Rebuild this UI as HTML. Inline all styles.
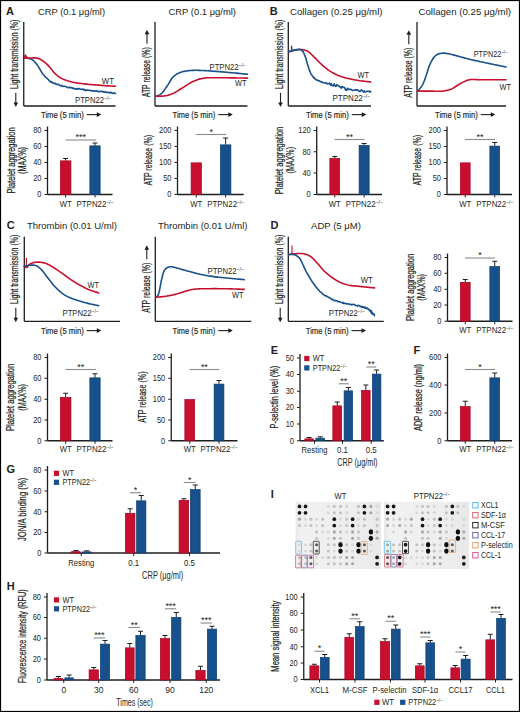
<!DOCTYPE html><html><head><meta charset="utf-8"><style>html,body{margin:0;padding:0;background:#fff}svg{display:block}text{font-family:"Liberation Sans",sans-serif;fill:#231f20}</style></head><body>
<svg width="520" height="712" viewBox="0 0 520 712">
<rect x="0" y="0" width="520" height="712" fill="#fff"/>
<rect x="0.5" y="0.5" width="519" height="711" fill="none" stroke="#000" stroke-width="1.2"/>
<text x="6" y="15" font-size="11" font-weight="bold" >A</text>
<text x="269.8" y="15" font-size="11" font-weight="bold" >B</text>
<text x="6.8" y="228.8" font-size="11" font-weight="bold" >C</text>
<text x="270.5" y="228.8" font-size="11" font-weight="bold" >D</text>
<text x="270.7" y="353.5" font-size="11" font-weight="bold" >E</text>
<text x="413.6" y="353.5" font-size="11" font-weight="bold" >F</text>
<text x="6.6" y="473.2" font-size="11" font-weight="bold" >G</text>
<text x="270.8" y="498" font-size="11" font-weight="bold" >I</text>
<text x="6.8" y="589.5" font-size="11" font-weight="bold" >H</text>
<text x="38" y="15" font-size="9.8" textLength="67" lengthAdjust="spacingAndGlyphs" >CRP (0.1 μg/ml)</text>
<text x="168.5" y="15" font-size="9.8" textLength="67.5" lengthAdjust="spacingAndGlyphs" >CRP (0.1 μg/ml)</text>
<text x="290" y="15" font-size="9.8" textLength="92.5" lengthAdjust="spacingAndGlyphs" >Collagen (0.25 μg/ml)</text>
<text x="418.5" y="15" font-size="9.8" textLength="92.5" lengthAdjust="spacingAndGlyphs" >Collagen (0.25 μg/ml)</text>
<text x="27" y="228.7" font-size="9.8" textLength="90" lengthAdjust="spacingAndGlyphs" >Thrombin (0.01 U/ml)</text>
<text x="158" y="228.7" font-size="9.8" textLength="89.5" lengthAdjust="spacingAndGlyphs" >Thrombin (0.01 U/ml)</text>
<text x="311" y="228.7" font-size="9.8" textLength="50" lengthAdjust="spacingAndGlyphs" >ADP (5 μM)</text>
<line x1="23.75" y1="22" x2="23.75" y2="106" stroke="#1e1e1e" stroke-width="1.3"/>
<line x1="23.75" y1="106" x2="115.5" y2="106" stroke="#1e1e1e" stroke-width="1.3"/>
<text x="18.3" y="89" font-size="10.2" textLength="69.4" lengthAdjust="spacingAndGlyphs" transform="rotate(-90 18.3 89)" stroke="#222" stroke-width="0.22">Light transmission (%)</text>
<line x1="15.8" y1="92.8" x2="15.8" y2="104" stroke="#1e1e1e" stroke-width="1.1"/>
<path d="M15.8 107 L13.5 102.5 L18.1 102.5 Z" fill="#1e1e1e"/>
<text x="41" y="117.7" font-size="9.6" textLength="42.7" lengthAdjust="spacingAndGlyphs" stroke="#222" stroke-width="0.18">Time (5 min)</text>
<line x1="86.8" y1="114.6" x2="98.3" y2="114.6" stroke="#1e1e1e" stroke-width="1.1"/>
<path d="M101.3 114.6 L96.8 112.3 L96.8 116.89999999999999 Z" fill="#1e1e1e"/>
<path d="M24.60 58.02 L24.94 58.15 L25.36 58.13 L25.87 58.22 L26.43 58.25 L27.04 58.11 L27.69 58.14 L28.35 58.45 L29.03 58.37 L29.69 58.49 L30.33 58.88 L30.94 58.93 L31.50 59.30 L32.02 59.50 L32.53 59.90 L33.03 60.14 L33.52 60.70 L34.00 61.22 L34.47 61.60 L34.95 62.18 L35.41 62.69 L35.88 63.07 L36.35 63.86 L36.82 64.41 L37.30 64.94 L37.78 65.52 L38.25 66.49 L38.73 67.13 L39.20 68.01 L39.68 68.88 L40.15 69.66 L40.62 70.56 L41.10 71.23 L41.57 72.15 L42.05 72.81 L42.52 73.67 L43.00 74.31 L43.48 74.69 L43.96 75.28 L44.44 75.86 L44.93 76.61 L45.41 76.91 L45.89 77.60 L46.38 77.71 L46.86 78.38 L47.35 78.67 L47.83 79.05 L48.32 79.71 L48.80 80.09 L49.27 80.81 L49.70 80.90 L50.12 81.49 L50.52 81.70 L50.93 82.12 L51.34 82.03 L51.78 81.73 L52.24 82.74 L52.75 83.11 L53.30 83.30 L53.92 83.20 L54.60 83.64 L55.35 83.37 L56.16 84.36 L57.02 84.38 L57.92 84.37 L58.87 84.43 L59.84 85.61 L60.85 86.06 L61.88 85.37 L62.92 86.44 L63.98 86.29 L65.04 86.27 L66.10 86.67 L67.15 87.43 L68.21 87.76 L69.26 87.06 L70.33 87.88 L71.41 87.44 L72.52 88.37 L73.65 88.12 L74.83 88.90 L75.43 89.09 L76.04 88.66 L76.67 89.29 L77.30 88.62 L77.96 88.46 L78.62 89.12 L79.31 88.59 L80.00 88.87 L80.73 89.20 L81.47 89.51 L82.25 89.11 L83.03 89.09 L83.85 90.09 L84.68 89.58 L85.53 90.39 L86.38 90.42 L87.26 89.95 L88.13 90.14 L89.01 90.30 L89.90 90.54 L90.79 90.58 L91.68 90.64 L92.56 90.81 L93.44 91.26 L94.31 90.87 L95.17 90.88 L96.01 91.30 L96.86 90.86 L97.66 91.02 L98.47 91.85 L99.24 91.44 L100.00 91.55 L100.75 91.05 L101.50 91.58 L102.26 91.85 L103.02 91.32 L103.79 92.07 L104.55 92.17 L105.31 91.63 L106.07 92.34 L106.82 92.25 L107.56 92.57 L108.28 92.30 L109.00 92.77 L109.68 92.89 L110.37 92.18 L111.01 92.29 L111.65 93.05 L112.82 93.50 L113.87 92.84 L114.77 93.17 L115.50 93.40" fill="none" stroke="#17508A" stroke-width="1.6" stroke-linejoin="round" stroke-linecap="round"/>
<path d="M24.60 58.10 L24.91 58.09 L25.30 58.09 L25.75 58.08 L26.26 58.07 L26.82 58.06 L27.41 58.04 L28.02 58.03 L28.64 58.02 L29.26 58.01 L29.87 58.01 L30.45 58.00 L31.00 58.00 L31.53 57.99 L32.06 57.97 L32.60 57.95 L33.13 57.91 L33.66 57.89 L34.19 57.86 L34.72 57.85 L35.25 57.85 L35.77 57.87 L36.29 57.92 L36.80 57.99 L37.30 58.10 L37.80 58.24 L38.28 58.40 L38.76 58.58 L39.24 58.78 L39.71 59.00 L40.18 59.24 L40.65 59.49 L41.11 59.77 L41.58 60.05 L42.05 60.36 L42.52 60.67 L43.00 61.00 L43.48 61.34 L43.96 61.70 L44.44 62.08 L44.93 62.47 L45.41 62.87 L45.89 63.29 L46.38 63.73 L46.86 64.18 L47.35 64.64 L47.83 65.11 L48.32 65.60 L48.80 66.10 L49.28 66.62 L49.77 67.18 L50.25 67.77 L50.73 68.38 L51.22 69.00 L51.70 69.63 L52.18 70.26 L52.67 70.87 L53.15 71.47 L53.63 72.05 L54.12 72.59 L54.60 73.10 L55.08 73.57 L55.54 74.02 L56.00 74.45 L56.45 74.86 L56.91 75.25 L57.36 75.62 L57.83 75.99 L58.30 76.34 L58.80 76.69 L59.31 77.03 L59.84 77.37 L60.40 77.70 L60.98 78.03 L61.56 78.35 L62.16 78.66 L62.77 78.96 L63.40 79.26 L64.04 79.54 L64.70 79.82 L65.39 80.09 L66.10 80.36 L66.83 80.61 L67.60 80.86 L68.40 81.10 L69.21 81.33 L70.03 81.55 L70.85 81.76 L71.69 81.96 L72.55 82.16 L73.45 82.34 L74.39 82.53 L75.38 82.70 L76.43 82.88 L77.54 83.05 L78.73 83.23 L80.00 83.40 L81.39 83.58 L82.90 83.75 L84.51 83.92 L86.21 84.10 L87.97 84.27 L89.76 84.43 L91.56 84.59 L93.36 84.75 L95.12 84.90 L96.83 85.04 L98.46 85.17 L100.00 85.30 L101.50 85.42 L103.02 85.53 L104.55 85.64 L106.07 85.74 L107.56 85.83 L109.00 85.92 L110.37 86.00 L111.65 86.07 L112.82 86.14 L113.87 86.20 L114.77 86.25 L115.50 86.30" fill="none" stroke="#C8102E" stroke-width="1.6" stroke-linejoin="round" stroke-linecap="round"/>
<path d="M24.4 58.6 L25.2 55 L27.6 57.6" stroke="#C8102E" stroke-width="1.3" fill="none" stroke-linejoin="round"/>
<text x="101.8" y="83.8" font-size="8.5" textLength="12.2" lengthAdjust="spacingAndGlyphs" >WT</text>
<text x="75" y="103" font-size="8.5" textLength="36" lengthAdjust="spacingAndGlyphs">PTPN22<tspan font-size="5.27" dy="-2.55">−/−</tspan></text>
<line x1="155" y1="22" x2="155" y2="106" stroke="#1e1e1e" stroke-width="1.3"/>
<line x1="155" y1="106" x2="247.5" y2="106" stroke="#1e1e1e" stroke-width="1.3"/>
<text x="150.2" y="97.2" font-size="10.2" textLength="50.0" lengthAdjust="spacingAndGlyphs" transform="rotate(-90 150.2 97.2)" stroke="#222" stroke-width="0.22">ATP release (%)</text>
<line x1="147.0" y1="43.7" x2="147.0" y2="32.7" stroke="#1e1e1e" stroke-width="1.1"/>
<path d="M147.0 29.700000000000003 L144.7 34.2 L149.3 34.2 Z" fill="#1e1e1e"/>
<text x="172.5" y="117.7" font-size="9.6" textLength="42.7" lengthAdjust="spacingAndGlyphs" stroke="#222" stroke-width="0.18">Time (5 min)</text>
<line x1="218.3" y1="114.6" x2="229.8" y2="114.6" stroke="#1e1e1e" stroke-width="1.1"/>
<path d="M232.8 114.6 L228.3 112.3 L228.3 116.89999999999999 Z" fill="#1e1e1e"/>
<path d="M155.80 96.30 L156.08 96.18 L156.42 96.05 L156.82 95.91 L157.27 95.76 L157.77 95.58 L158.29 95.38 L158.83 95.16 L159.38 94.90 L159.93 94.61 L160.48 94.28 L161.00 93.91 L161.50 93.50 L161.98 93.03 L162.46 92.51 L162.95 91.94 L163.43 91.33 L163.91 90.69 L164.40 90.02 L164.89 89.33 L165.37 88.62 L165.85 87.91 L166.34 87.20 L166.82 86.49 L167.30 85.80 L167.77 85.10 L168.23 84.36 L168.68 83.60 L169.13 82.83 L169.58 82.05 L170.03 81.27 L170.48 80.50 L170.95 79.75 L171.43 79.02 L171.93 78.34 L172.45 77.69 L173.00 77.10 L173.56 76.55 L174.14 76.04 L174.72 75.56 L175.31 75.10 L175.91 74.68 L176.54 74.27 L177.18 73.90 L177.85 73.54 L178.54 73.20 L179.26 72.89 L180.01 72.59 L180.80 72.30 L181.62 72.03 L182.46 71.79 L183.32 71.57 L184.21 71.37 L185.13 71.19 L186.07 71.02 L187.04 70.88 L188.04 70.76 L189.06 70.65 L190.11 70.55 L191.19 70.47 L192.30 70.40 L193.43 70.35 L194.60 70.32 L195.79 70.31 L197.00 70.32 L198.25 70.35 L199.52 70.39 L200.82 70.44 L202.14 70.50 L203.49 70.57 L204.87 70.64 L206.27 70.72 L207.70 70.80 L209.16 70.89 L210.66 70.98 L212.20 71.09 L213.77 71.20 L215.36 71.33 L216.97 71.46 L218.61 71.59 L220.26 71.73 L221.91 71.87 L223.57 72.01 L225.24 72.16 L226.90 72.30 L228.63 72.45 L230.49 72.62 L232.43 72.79 L234.43 72.97 L236.43 73.16 L238.40 73.34 L240.31 73.52 L242.11 73.69 L243.77 73.85 L245.24 73.99 L246.50 74.11 L247.50 74.20" fill="none" stroke="#17508A" stroke-width="1.6" stroke-linejoin="round" stroke-linecap="round"/>
<path d="M155.80 96.30 L156.27 96.28 L156.87 96.27 L157.57 96.25 L158.36 96.24 L159.22 96.22 L160.13 96.19 L161.06 96.16 L161.99 96.12 L162.92 96.06 L163.80 95.99 L164.64 95.91 L165.40 95.80 L166.10 95.68 L166.76 95.56 L167.39 95.43 L168.00 95.30 L168.60 95.15 L169.19 94.98 L169.79 94.80 L170.39 94.59 L171.00 94.36 L171.63 94.11 L172.30 93.82 L173.00 93.50 L173.74 93.14 L174.50 92.74 L175.28 92.30 L176.08 91.83 L176.90 91.33 L177.72 90.82 L178.56 90.29 L179.40 89.76 L180.23 89.23 L181.06 88.71 L181.89 88.19 L182.70 87.70 L183.50 87.21 L184.31 86.71 L185.11 86.19 L185.91 85.68 L186.71 85.16 L187.51 84.65 L188.31 84.15 L189.10 83.66 L189.90 83.18 L190.70 82.73 L191.50 82.30 L192.30 81.90 L193.09 81.52 L193.88 81.16 L194.65 80.82 L195.43 80.49 L196.20 80.18 L196.98 79.89 L197.76 79.61 L198.55 79.35 L199.36 79.11 L200.18 78.89 L201.03 78.68 L201.90 78.50 L202.73 78.34 L203.46 78.20 L204.13 78.09 L204.79 78.00 L205.46 77.92 L206.17 77.86 L206.98 77.82 L207.90 77.78 L208.98 77.75 L210.25 77.73 L211.74 77.72 L213.50 77.70 L215.66 77.69 L218.26 77.70 L221.22 77.73 L224.43 77.76 L227.80 77.80 L231.22 77.85 L234.61 77.90 L237.86 77.95 L240.87 78.00 L243.54 78.04 L245.79 78.08 L247.50 78.10" fill="none" stroke="#C8102E" stroke-width="1.6" stroke-linejoin="round" stroke-linecap="round"/>
<text x="209.5" y="69.5" font-size="8.5" textLength="36" lengthAdjust="spacingAndGlyphs">PTPN22<tspan font-size="5.27" dy="-2.55">−/−</tspan></text>
<text x="235" y="86" font-size="8.5" textLength="11.5" lengthAdjust="spacingAndGlyphs" >WT</text>
<line x1="288.3" y1="22" x2="288.3" y2="106" stroke="#1e1e1e" stroke-width="1.3"/>
<line x1="288.3" y1="106" x2="371" y2="106" stroke="#1e1e1e" stroke-width="1.3"/>
<text x="283" y="89" font-size="10.2" textLength="69.3" lengthAdjust="spacingAndGlyphs" transform="rotate(-90 283 89)" stroke="#222" stroke-width="0.22">Light transmission (%)</text>
<line x1="280.5" y1="92.8" x2="280.5" y2="104" stroke="#1e1e1e" stroke-width="1.1"/>
<path d="M280.5 107 L278.2 102.5 L282.8 102.5 Z" fill="#1e1e1e"/>
<text x="306" y="117.7" font-size="9.6" textLength="42.7" lengthAdjust="spacingAndGlyphs" stroke="#222" stroke-width="0.18">Time (5 min)</text>
<line x1="351.8" y1="114.6" x2="363.3" y2="114.6" stroke="#1e1e1e" stroke-width="1.1"/>
<path d="M366.3 114.6 L361.8 112.3 L361.8 116.89999999999999 Z" fill="#1e1e1e"/>
<path d="M288.80 51.80 L289.03 51.73 L289.31 51.64 L289.63 51.54 L290.00 51.42 L290.39 51.29 L290.82 51.16 L291.27 51.02 L291.74 50.88 L292.22 50.75 L292.71 50.62 L293.21 50.50 L293.70 50.40 L294.20 50.30 L294.73 50.19 L295.28 50.08 L295.85 49.97 L296.43 49.86 L297.02 49.76 L297.62 49.67 L298.23 49.59 L298.83 49.53 L299.43 49.49 L300.02 49.48 L300.60 49.50 L301.18 49.54 L301.75 49.58 L302.33 49.64 L302.90 49.71 L303.48 49.80 L304.05 49.91 L304.62 50.05 L305.20 50.21 L305.78 50.40 L306.35 50.63 L306.93 50.90 L307.50 51.20 L308.07 51.55 L308.65 51.95 L309.23 52.40 L309.80 52.88 L310.38 53.39 L310.95 53.93 L311.52 54.48 L312.10 55.04 L312.67 55.62 L313.25 56.19 L313.82 56.75 L314.40 57.30 L314.97 57.85 L315.53 58.40 L316.08 58.97 L316.63 59.54 L317.18 60.12 L317.74 60.70 L318.30 61.28 L318.87 61.87 L319.45 62.46 L320.05 63.04 L320.66 63.62 L321.30 64.20 L321.96 64.78 L322.63 65.37 L323.31 65.96 L324.00 66.56 L324.71 67.16 L325.43 67.76 L326.16 68.35 L326.91 68.93 L327.66 69.49 L328.43 70.05 L329.21 70.58 L330.00 71.10 L330.80 71.60 L331.60 72.08 L332.40 72.56 L333.21 73.02 L334.04 73.47 L334.88 73.91 L335.74 74.34 L336.62 74.76 L337.52 75.16 L338.45 75.55 L339.41 75.93 L340.40 76.30 L341.42 76.66 L342.47 77.00 L343.55 77.33 L344.65 77.64 L345.78 77.94 L346.92 78.24 L348.09 78.52 L349.28 78.79 L350.49 79.06 L351.71 79.31 L352.95 79.56 L354.20 79.80 L355.53 80.04 L356.97 80.27 L358.50 80.49 L360.08 80.71 L361.68 80.92 L363.26 81.12 L364.80 81.31 L366.25 81.48 L367.59 81.64 L368.79 81.78 L369.80 81.90 L370.60 82.00" fill="none" stroke="#C8102E" stroke-width="1.6" stroke-linejoin="round" stroke-linecap="round"/>
<path d="M288.80 51.67 L289.12 51.61 L289.53 51.45 L290.00 51.34 L290.53 51.33 L291.11 50.95 L291.72 50.81 L292.36 50.90 L293.00 50.20 L293.64 50.41 L294.26 50.38 L294.85 49.96 L295.40 49.81 L295.93 50.13 L296.46 49.65 L297.00 49.52 L297.54 49.61 L298.07 49.73 L298.59 49.26 L299.11 49.39 L299.61 49.40 L300.09 49.80 L300.55 49.61 L300.99 50.05 L301.40 49.77 L301.78 50.15 L302.14 50.68 L302.47 51.21 L302.79 51.31 L303.08 51.59 L303.36 52.00 L303.63 52.79 L303.89 53.09 L304.15 54.07 L304.40 54.67 L304.65 54.79 L304.90 55.45 L305.15 56.42 L305.37 56.95 L305.59 57.73 L305.80 58.10 L306.00 58.67 L306.20 59.51 L306.40 60.61 L306.60 61.00 L306.81 61.81 L307.02 62.62 L307.25 63.39 L307.50 64.14 L307.76 65.27 L308.02 65.54 L308.29 66.27 L308.57 67.77 L308.85 68.58 L309.14 69.50 L309.44 69.95 L309.74 71.13 L310.05 71.91 L310.36 72.16 L310.68 73.23 L311.00 73.94 L311.32 74.40 L311.63 74.85 L311.94 75.19 L312.25 75.70 L312.56 76.07 L312.89 76.37 L313.23 77.13 L313.59 77.30 L313.97 78.04 L314.38 77.86 L314.82 78.82 L315.30 79.04 L315.80 79.55 L316.31 79.86 L316.84 80.18 L317.39 80.25 L317.95 80.14 L318.55 80.93 L319.18 80.81 L319.85 81.16 L320.56 81.69 L321.32 81.86 L322.13 82.06 L323.00 82.71 L323.96 82.77 L325.02 82.86 L326.16 83.09 L326.76 83.66 L327.37 83.53 L327.99 83.89 L328.62 83.45 L329.25 83.19 L329.89 84.21 L330.53 85.08 L331.16 83.55 L331.79 85.30 L332.42 85.78 L333.03 85.62 L333.65 85.81 L334.23 83.83 L334.81 85.58 L335.90 86.47 L336.90 84.63 L337.80 85.48 L338.61 85.76 L339.36 86.72 L340.06 86.74 L340.72 87.15 L341.36 88.23 L342.00 86.49 L342.64 86.89 L343.31 87.34 L344.01 87.58 L344.77 87.66 L345.60 90.23 L346.49 90.12 L347.41 88.30 L348.37 89.55 L349.35 89.23 L350.36 89.37 L351.39 89.61 L352.43 90.51 L353.48 90.47 L354.54 90.00 L355.60 89.68 L356.65 90.15 L357.70 89.72 L358.79 90.95 L359.95 91.47 L360.56 90.64 L361.17 89.91 L361.79 90.21 L362.42 90.76 L363.05 91.41 L363.67 91.91 L364.29 90.91 L364.91 92.04 L366.10 91.65 L367.23 91.22 L368.26 91.13 L369.19 91.50 L369.97 92.09 L370.60 91.39" fill="none" stroke="#17508A" stroke-width="1.6" stroke-linejoin="round" stroke-linecap="round"/>
<line x1="291.6" y1="45.8" x2="291.6" y2="52" stroke="#17508A" stroke-width="1.5"/>
<text x="357.5" y="78" font-size="8.5" textLength="11.5" lengthAdjust="spacingAndGlyphs" >WT</text>
<text x="332.5" y="100.5" font-size="8.5" textLength="37.5" lengthAdjust="spacingAndGlyphs">PTPN22<tspan font-size="5.27" dy="-2.55">−/−</tspan></text>
<line x1="417" y1="22" x2="417" y2="106" stroke="#1e1e1e" stroke-width="1.3"/>
<line x1="417" y1="106" x2="506" y2="106" stroke="#1e1e1e" stroke-width="1.3"/>
<text x="412" y="97.7" font-size="10.2" textLength="50.0" lengthAdjust="spacingAndGlyphs" transform="rotate(-90 412 97.7)" stroke="#222" stroke-width="0.22">ATP release (%)</text>
<line x1="408.8" y1="44.2" x2="408.8" y2="33.2" stroke="#1e1e1e" stroke-width="1.1"/>
<path d="M408.8 30.200000000000003 L406.5 34.7 L411.1 34.7 Z" fill="#1e1e1e"/>
<text x="435" y="117.7" font-size="9.6" textLength="42.7" lengthAdjust="spacingAndGlyphs" stroke="#222" stroke-width="0.18">Time (5 min)</text>
<line x1="480.8" y1="114.6" x2="492.3" y2="114.6" stroke="#1e1e1e" stroke-width="1.1"/>
<path d="M495.3 114.6 L490.8 112.3 L490.8 116.89999999999999 Z" fill="#1e1e1e"/>
<path d="M417.70 91.10 L417.93 90.83 L418.21 90.50 L418.55 90.11 L418.93 89.69 L419.34 89.22 L419.77 88.72 L420.21 88.18 L420.66 87.62 L421.11 87.04 L421.53 86.44 L421.93 85.82 L422.30 85.20 L422.64 84.56 L422.97 83.89 L423.29 83.19 L423.60 82.47 L423.91 81.73 L424.21 80.97 L424.51 80.19 L424.81 79.39 L425.10 78.58 L425.40 77.76 L425.70 76.94 L426.00 76.10 L426.30 75.24 L426.58 74.35 L426.86 73.44 L427.14 72.50 L427.41 71.56 L427.69 70.60 L427.97 69.64 L428.26 68.70 L428.57 67.76 L428.89 66.85 L429.23 65.96 L429.60 65.10 L429.99 64.26 L430.39 63.40 L430.80 62.54 L431.23 61.69 L431.67 60.85 L432.12 60.04 L432.58 59.25 L433.06 58.50 L433.55 57.79 L434.06 57.13 L434.57 56.53 L435.10 56.00 L435.64 55.53 L436.19 55.12 L436.75 54.76 L437.33 54.45 L437.92 54.18 L438.52 53.95 L439.13 53.76 L439.76 53.60 L440.40 53.46 L441.05 53.36 L441.72 53.27 L442.40 53.20 L443.07 53.15 L443.72 53.14 L444.36 53.15 L444.99 53.20 L445.64 53.27 L446.32 53.38 L447.03 53.50 L447.80 53.66 L448.62 53.83 L449.52 54.03 L450.51 54.26 L451.60 54.50 L452.80 54.78 L454.11 55.11 L455.51 55.47 L457.00 55.87 L458.54 56.29 L460.13 56.73 L461.75 57.18 L463.39 57.63 L465.03 58.07 L466.66 58.51 L468.25 58.92 L469.80 59.30 L471.32 59.66 L472.85 60.02 L474.38 60.36 L475.91 60.70 L477.44 61.04 L478.97 61.37 L480.50 61.70 L482.03 62.02 L483.55 62.34 L485.07 62.66 L486.59 62.98 L488.10 63.30 L489.66 63.63 L491.31 63.98 L493.02 64.33 L494.76 64.69 L496.49 65.05 L498.19 65.40 L499.83 65.74 L501.37 66.05 L502.79 66.34 L504.06 66.60 L505.14 66.82 L506.00 67.00" fill="none" stroke="#17508A" stroke-width="1.6" stroke-linejoin="round" stroke-linecap="round"/>
<path d="M417.70 91.10 L418.29 91.10 L419.04 91.10 L419.91 91.10 L420.89 91.10 L421.95 91.10 L423.07 91.10 L424.25 91.10 L425.44 91.10 L426.63 91.10 L427.80 91.10 L428.93 91.10 L430.00 91.10 L431.04 91.11 L432.10 91.13 L433.17 91.15 L434.24 91.18 L435.32 91.21 L436.39 91.24 L437.46 91.26 L438.50 91.26 L439.52 91.25 L440.52 91.23 L441.48 91.18 L442.40 91.10 L443.28 91.00 L444.12 90.90 L444.93 90.78 L445.71 90.65 L446.47 90.51 L447.21 90.34 L447.94 90.16 L448.66 89.96 L449.38 89.73 L450.11 89.48 L450.85 89.21 L451.60 88.90 L452.36 88.55 L453.12 88.15 L453.88 87.71 L454.64 87.24 L455.40 86.75 L456.16 86.24 L456.91 85.73 L457.67 85.22 L458.43 84.73 L459.18 84.25 L459.94 83.81 L460.70 83.40 L461.45 83.02 L462.20 82.64 L462.95 82.26 L463.69 81.90 L464.44 81.54 L465.18 81.21 L465.93 80.89 L466.69 80.59 L467.45 80.32 L468.22 80.08 L469.00 79.87 L469.80 79.70 L470.56 79.57 L471.25 79.49 L471.90 79.44 L472.53 79.43 L473.17 79.44 L473.84 79.47 L474.57 79.51 L475.39 79.56 L476.31 79.61 L477.37 79.66 L478.59 79.69 L480.00 79.70 L481.70 79.70 L483.72 79.70 L486.00 79.70 L488.46 79.70 L491.03 79.70 L493.64 79.70 L496.21 79.70 L498.67 79.70 L500.96 79.70 L502.99 79.70 L504.69 79.70 L506.00 79.70" fill="none" stroke="#C8102E" stroke-width="1.6" stroke-linejoin="round" stroke-linecap="round"/>
<text x="473.75" y="57" font-size="8.5" textLength="34" lengthAdjust="spacingAndGlyphs">PTPN22<tspan font-size="5.27" dy="-2.55">−/−</tspan></text>
<text x="499.5" y="89.5" font-size="8.5" textLength="11.5" lengthAdjust="spacingAndGlyphs" >WT</text>
<line x1="47.5" y1="126.5" x2="47.5" y2="194.5" stroke="#1e1e1e" stroke-width="1.3"/>
<line x1="44.5" y1="130.5" x2="47.5" y2="130.5" stroke="#1e1e1e" stroke-width="1.0"/>
<text x="41.5" y="133.4" font-size="8.8" text-anchor="end" textLength="8.3" lengthAdjust="spacingAndGlyphs" >80</text>
<line x1="44.5" y1="146.5" x2="47.5" y2="146.5" stroke="#1e1e1e" stroke-width="1.0"/>
<text x="41.5" y="149.4" font-size="8.8" text-anchor="end" textLength="8.3" lengthAdjust="spacingAndGlyphs" >60</text>
<line x1="44.5" y1="162.5" x2="47.5" y2="162.5" stroke="#1e1e1e" stroke-width="1.0"/>
<text x="41.5" y="165.4" font-size="8.8" text-anchor="end" textLength="8.3" lengthAdjust="spacingAndGlyphs" >40</text>
<line x1="44.5" y1="178.5" x2="47.5" y2="178.5" stroke="#1e1e1e" stroke-width="1.0"/>
<text x="41.5" y="181.4" font-size="8.8" text-anchor="end" textLength="8.3" lengthAdjust="spacingAndGlyphs" >20</text>
<line x1="44.5" y1="194.5" x2="47.5" y2="194.5" stroke="#1e1e1e" stroke-width="1.0"/>
<text x="41.5" y="197.4" font-size="8.8" text-anchor="end" textLength="4.15" lengthAdjust="spacingAndGlyphs" >0</text>
<line x1="47.5" y1="194.5" x2="112.5" y2="194.5" stroke="#1e1e1e" stroke-width="1.3"/>
<line x1="65.625" y1="194.5" x2="65.625" y2="197.5" stroke="#1e1e1e" stroke-width="1.0"/>
<line x1="95.0" y1="194.5" x2="95.0" y2="197.5" stroke="#1e1e1e" stroke-width="1.0"/>
<rect x="60.35" y="160.85" width="10.55" height="33.65" fill="#C8102E" stroke="#A5001E" stroke-width="0.7"/>
<line x1="65.625" y1="160.5" x2="65.625" y2="158.5" stroke="#1e1e1e" stroke-width="1.0"/>
<line x1="63.125" y1="158.5" x2="68.125" y2="158.5" stroke="#1e1e1e" stroke-width="1.0"/>
<rect x="89.85" y="145.85" width="10.30" height="48.65" fill="#17508A" stroke="#0D3F74" stroke-width="0.7"/>
<line x1="95.0" y1="145.5" x2="95.0" y2="143" stroke="#1e1e1e" stroke-width="1.0"/>
<line x1="92.5" y1="143" x2="97.5" y2="143" stroke="#1e1e1e" stroke-width="1.0"/>
<line x1="65.5" y1="140" x2="96" y2="140" stroke="#8a8a8a" stroke-width="1.1"/>
<text x="80.75" y="140.1" font-size="9.5" text-anchor="middle" fill="#111" textLength="10.5" lengthAdjust="spacingAndGlyphs" >***</text>
<text x="65.625" y="207" font-size="8.5" text-anchor="middle" textLength="12" lengthAdjust="spacingAndGlyphs" >WT</text>
<text x="76.5" y="207" font-size="8.5" textLength="37" lengthAdjust="spacingAndGlyphs">PTPN22<tspan font-size="5.27" dy="-2.55">−/−</tspan></text>
<text x="14.6" y="193.6" font-size="10.2" textLength="66.19999999999999" lengthAdjust="spacingAndGlyphs" transform="rotate(-90 14.6 193.6)" stroke="#222" stroke-width="0.22">Platelet aggregation</text>
<text x="25.5" y="174" font-size="10.2" textLength="27.0" lengthAdjust="spacingAndGlyphs" transform="rotate(-90 25.5 174)" stroke="#222" stroke-width="0.22">(MAX%)</text>
<line x1="177.5" y1="126.5" x2="177.5" y2="194.5" stroke="#1e1e1e" stroke-width="1.3"/>
<line x1="174.5" y1="130.5" x2="177.5" y2="130.5" stroke="#1e1e1e" stroke-width="1.0"/>
<text x="171.5" y="133.4" font-size="8.8" text-anchor="end" textLength="12.450000000000001" lengthAdjust="spacingAndGlyphs" >200</text>
<line x1="174.5" y1="146.5" x2="177.5" y2="146.5" stroke="#1e1e1e" stroke-width="1.0"/>
<text x="171.5" y="149.4" font-size="8.8" text-anchor="end" textLength="12.450000000000001" lengthAdjust="spacingAndGlyphs" >150</text>
<line x1="174.5" y1="162.5" x2="177.5" y2="162.5" stroke="#1e1e1e" stroke-width="1.0"/>
<text x="171.5" y="165.4" font-size="8.8" text-anchor="end" textLength="12.450000000000001" lengthAdjust="spacingAndGlyphs" >100</text>
<line x1="174.5" y1="178.5" x2="177.5" y2="178.5" stroke="#1e1e1e" stroke-width="1.0"/>
<text x="171.5" y="181.4" font-size="8.8" text-anchor="end" textLength="8.3" lengthAdjust="spacingAndGlyphs" >50</text>
<line x1="174.5" y1="194.5" x2="177.5" y2="194.5" stroke="#1e1e1e" stroke-width="1.0"/>
<text x="171.5" y="197.4" font-size="8.8" text-anchor="end" textLength="4.15" lengthAdjust="spacingAndGlyphs" >0</text>
<line x1="177.5" y1="194.5" x2="243.75" y2="194.5" stroke="#1e1e1e" stroke-width="1.3"/>
<line x1="196.25" y1="194.5" x2="196.25" y2="197.5" stroke="#1e1e1e" stroke-width="1.0"/>
<line x1="225.625" y1="194.5" x2="225.625" y2="197.5" stroke="#1e1e1e" stroke-width="1.0"/>
<rect x="191.10" y="162.85" width="10.30" height="31.65" fill="#C8102E" stroke="#A5001E" stroke-width="0.7"/>
<rect x="220.35" y="144.85" width="10.55" height="49.65" fill="#17508A" stroke="#0D3F74" stroke-width="0.7"/>
<line x1="225.625" y1="144.5" x2="225.625" y2="138" stroke="#1e1e1e" stroke-width="1.0"/>
<line x1="223.125" y1="138" x2="228.125" y2="138" stroke="#1e1e1e" stroke-width="1.0"/>
<line x1="196.25" y1="134.5" x2="226.25" y2="134.5" stroke="#8a8a8a" stroke-width="1.1"/>
<text x="211.25" y="134.6" font-size="9.5" text-anchor="middle" fill="#111" textLength="3.5" lengthAdjust="spacingAndGlyphs" >*</text>
<text x="196.25" y="207" font-size="8.5" text-anchor="middle" textLength="12" lengthAdjust="spacingAndGlyphs" >WT</text>
<text x="207.125" y="207" font-size="8.5" textLength="37" lengthAdjust="spacingAndGlyphs">PTPN22<tspan font-size="5.27" dy="-2.55">−/−</tspan></text>
<text x="152.4" y="185.5" font-size="10.2" textLength="50.5" lengthAdjust="spacingAndGlyphs" transform="rotate(-90 152.4 185.5)" stroke="#222" stroke-width="0.22">ATP release (%)</text>
<line x1="316.7" y1="126.5" x2="316.7" y2="194.5" stroke="#1e1e1e" stroke-width="1.3"/>
<line x1="313.7" y1="130.5" x2="316.7" y2="130.5" stroke="#1e1e1e" stroke-width="1.0"/>
<text x="310.7" y="133.4" font-size="8.8" text-anchor="end" textLength="12.450000000000001" lengthAdjust="spacingAndGlyphs" >120</text>
<line x1="313.7" y1="151.75" x2="316.7" y2="151.75" stroke="#1e1e1e" stroke-width="1.0"/>
<text x="310.7" y="154.65" font-size="8.8" text-anchor="end" textLength="8.3" lengthAdjust="spacingAndGlyphs" >80</text>
<line x1="313.7" y1="173" x2="316.7" y2="173" stroke="#1e1e1e" stroke-width="1.0"/>
<text x="310.7" y="175.9" font-size="8.8" text-anchor="end" textLength="8.3" lengthAdjust="spacingAndGlyphs" >40</text>
<line x1="313.7" y1="194.5" x2="316.7" y2="194.5" stroke="#1e1e1e" stroke-width="1.0"/>
<text x="310.7" y="197.4" font-size="8.8" text-anchor="end" textLength="4.15" lengthAdjust="spacingAndGlyphs" >0</text>
<line x1="316.7" y1="194.5" x2="382" y2="194.5" stroke="#1e1e1e" stroke-width="1.3"/>
<line x1="334.75" y1="194.5" x2="334.75" y2="197.5" stroke="#1e1e1e" stroke-width="1.0"/>
<line x1="364.125" y1="194.5" x2="364.125" y2="197.5" stroke="#1e1e1e" stroke-width="1.0"/>
<rect x="329.85" y="158.35" width="9.80" height="36.15" fill="#C8102E" stroke="#A5001E" stroke-width="0.7"/>
<line x1="334.75" y1="158" x2="334.75" y2="156.5" stroke="#1e1e1e" stroke-width="1.0"/>
<line x1="332.25" y1="156.5" x2="337.25" y2="156.5" stroke="#1e1e1e" stroke-width="1.0"/>
<rect x="359.10" y="145.35" width="10.05" height="49.15" fill="#17508A" stroke="#0D3F74" stroke-width="0.7"/>
<line x1="364.125" y1="145" x2="364.125" y2="143.5" stroke="#1e1e1e" stroke-width="1.0"/>
<line x1="361.625" y1="143.5" x2="366.625" y2="143.5" stroke="#1e1e1e" stroke-width="1.0"/>
<line x1="334.5" y1="139.5" x2="364.5" y2="139.5" stroke="#8a8a8a" stroke-width="1.1"/>
<text x="349.5" y="139.6" font-size="9.5" text-anchor="middle" fill="#111" textLength="7.0" lengthAdjust="spacingAndGlyphs" >**</text>
<text x="334.75" y="207" font-size="8.5" text-anchor="middle" textLength="12" lengthAdjust="spacingAndGlyphs" >WT</text>
<text x="345.625" y="207" font-size="8.5" textLength="37" lengthAdjust="spacingAndGlyphs">PTPN22<tspan font-size="5.27" dy="-2.55">−/−</tspan></text>
<text x="282.9" y="194.2" font-size="10.2" textLength="67.49999999999999" lengthAdjust="spacingAndGlyphs" transform="rotate(-90 282.9 194.2)" stroke="#222" stroke-width="0.22">Platelet aggregation</text>
<text x="294.2" y="173.4" font-size="10.2" textLength="26.400000000000006" lengthAdjust="spacingAndGlyphs" transform="rotate(-90 294.2 173.4)" stroke="#222" stroke-width="0.22">(MAX%)</text>
<line x1="447" y1="126.5" x2="447" y2="194.5" stroke="#1e1e1e" stroke-width="1.3"/>
<line x1="444" y1="130.5" x2="447" y2="130.5" stroke="#1e1e1e" stroke-width="1.0"/>
<text x="441" y="133.4" font-size="8.8" text-anchor="end" textLength="12.450000000000001" lengthAdjust="spacingAndGlyphs" >200</text>
<line x1="444" y1="146.5" x2="447" y2="146.5" stroke="#1e1e1e" stroke-width="1.0"/>
<text x="441" y="149.4" font-size="8.8" text-anchor="end" textLength="12.450000000000001" lengthAdjust="spacingAndGlyphs" >150</text>
<line x1="444" y1="162.5" x2="447" y2="162.5" stroke="#1e1e1e" stroke-width="1.0"/>
<text x="441" y="165.4" font-size="8.8" text-anchor="end" textLength="12.450000000000001" lengthAdjust="spacingAndGlyphs" >100</text>
<line x1="444" y1="178.5" x2="447" y2="178.5" stroke="#1e1e1e" stroke-width="1.0"/>
<text x="441" y="181.4" font-size="8.8" text-anchor="end" textLength="8.3" lengthAdjust="spacingAndGlyphs" >50</text>
<line x1="444" y1="194.5" x2="447" y2="194.5" stroke="#1e1e1e" stroke-width="1.0"/>
<text x="441" y="197.4" font-size="8.8" text-anchor="end" textLength="4.15" lengthAdjust="spacingAndGlyphs" >0</text>
<line x1="447" y1="194.5" x2="512" y2="194.5" stroke="#1e1e1e" stroke-width="1.3"/>
<line x1="465.25" y1="194.5" x2="465.25" y2="197.5" stroke="#1e1e1e" stroke-width="1.0"/>
<line x1="494.75" y1="194.5" x2="494.75" y2="197.5" stroke="#1e1e1e" stroke-width="1.0"/>
<rect x="460.35" y="162.85" width="9.80" height="31.65" fill="#C8102E" stroke="#A5001E" stroke-width="0.7"/>
<rect x="489.85" y="146.10" width="9.80" height="48.40" fill="#17508A" stroke="#0D3F74" stroke-width="0.7"/>
<line x1="494.75" y1="145.75" x2="494.75" y2="142.5" stroke="#1e1e1e" stroke-width="1.0"/>
<line x1="492.25" y1="142.5" x2="497.25" y2="142.5" stroke="#1e1e1e" stroke-width="1.0"/>
<line x1="465" y1="139.5" x2="495" y2="139.5" stroke="#8a8a8a" stroke-width="1.1"/>
<text x="480.0" y="139.6" font-size="9.5" text-anchor="middle" fill="#111" textLength="7.0" lengthAdjust="spacingAndGlyphs" >**</text>
<text x="465.25" y="207" font-size="8.5" text-anchor="middle" textLength="12" lengthAdjust="spacingAndGlyphs" >WT</text>
<text x="476.25" y="207" font-size="8.5" textLength="37" lengthAdjust="spacingAndGlyphs">PTPN22<tspan font-size="5.27" dy="-2.55">−/−</tspan></text>
<text x="421.4" y="185.5" font-size="10.2" textLength="50.5" lengthAdjust="spacingAndGlyphs" transform="rotate(-90 421.4 185.5)" stroke="#222" stroke-width="0.22">ATP release (%)</text>
<line x1="447.5" y1="253.5" x2="447.5" y2="321.25" stroke="#1e1e1e" stroke-width="1.3"/>
<line x1="444.5" y1="257.5" x2="447.5" y2="257.5" stroke="#1e1e1e" stroke-width="1.0"/>
<text x="441.5" y="260.4" font-size="8.8" text-anchor="end" textLength="8.3" lengthAdjust="spacingAndGlyphs" >80</text>
<line x1="444.5" y1="273.25" x2="447.5" y2="273.25" stroke="#1e1e1e" stroke-width="1.0"/>
<text x="441.5" y="276.15" font-size="8.8" text-anchor="end" textLength="8.3" lengthAdjust="spacingAndGlyphs" >60</text>
<line x1="444.5" y1="289.25" x2="447.5" y2="289.25" stroke="#1e1e1e" stroke-width="1.0"/>
<text x="441.5" y="292.15" font-size="8.8" text-anchor="end" textLength="8.3" lengthAdjust="spacingAndGlyphs" >40</text>
<line x1="444.5" y1="305" x2="447.5" y2="305" stroke="#1e1e1e" stroke-width="1.0"/>
<text x="441.5" y="307.9" font-size="8.8" text-anchor="end" textLength="8.3" lengthAdjust="spacingAndGlyphs" >20</text>
<line x1="444.5" y1="321.25" x2="447.5" y2="321.25" stroke="#1e1e1e" stroke-width="1.0"/>
<text x="441.5" y="324.15" font-size="8.8" text-anchor="end" textLength="4.15" lengthAdjust="spacingAndGlyphs" >0</text>
<line x1="447.5" y1="321.25" x2="512.5" y2="321.25" stroke="#1e1e1e" stroke-width="1.3"/>
<line x1="465.25" y1="321.25" x2="465.25" y2="324.25" stroke="#1e1e1e" stroke-width="1.0"/>
<line x1="494.75" y1="321.25" x2="494.75" y2="324.25" stroke="#1e1e1e" stroke-width="1.0"/>
<rect x="460.35" y="282.35" width="9.80" height="38.90" fill="#C8102E" stroke="#A5001E" stroke-width="0.7"/>
<line x1="465.25" y1="282" x2="465.25" y2="279.5" stroke="#1e1e1e" stroke-width="1.0"/>
<line x1="462.75" y1="279.5" x2="467.75" y2="279.5" stroke="#1e1e1e" stroke-width="1.0"/>
<rect x="489.85" y="266.60" width="9.80" height="54.65" fill="#17508A" stroke="#0D3F74" stroke-width="0.7"/>
<line x1="494.75" y1="266.25" x2="494.75" y2="261.25" stroke="#1e1e1e" stroke-width="1.0"/>
<line x1="492.25" y1="261.25" x2="497.25" y2="261.25" stroke="#1e1e1e" stroke-width="1.0"/>
<line x1="465" y1="258" x2="495" y2="258" stroke="#8a8a8a" stroke-width="1.1"/>
<text x="480.0" y="258.1" font-size="9.5" text-anchor="middle" fill="#111" textLength="3.5" lengthAdjust="spacingAndGlyphs" >*</text>
<text x="465.25" y="333" font-size="8.5" text-anchor="middle" textLength="12" lengthAdjust="spacingAndGlyphs" >WT</text>
<text x="476.25" y="333" font-size="8.5" textLength="37" lengthAdjust="spacingAndGlyphs">PTPN22<tspan font-size="5.27" dy="-2.55">−/−</tspan></text>
<text x="414.2" y="321" font-size="10.2" textLength="67.1" lengthAdjust="spacingAndGlyphs" transform="rotate(-90 414.2 321)" stroke="#222" stroke-width="0.22">Platelet aggregation</text>
<text x="425.3" y="300.7" font-size="10.2" textLength="26.599999999999966" lengthAdjust="spacingAndGlyphs" transform="rotate(-90 425.3 300.7)" stroke="#222" stroke-width="0.22">(MAX%)</text>
<line x1="47.5" y1="353.5" x2="47.5" y2="440.75" stroke="#1e1e1e" stroke-width="1.3"/>
<line x1="44.5" y1="357.5" x2="47.5" y2="357.5" stroke="#1e1e1e" stroke-width="1.0"/>
<text x="41.5" y="360.4" font-size="8.8" text-anchor="end" textLength="8.3" lengthAdjust="spacingAndGlyphs" >80</text>
<line x1="44.5" y1="378.25" x2="47.5" y2="378.25" stroke="#1e1e1e" stroke-width="1.0"/>
<text x="41.5" y="381.15" font-size="8.8" text-anchor="end" textLength="8.3" lengthAdjust="spacingAndGlyphs" >60</text>
<line x1="44.5" y1="399.25" x2="47.5" y2="399.25" stroke="#1e1e1e" stroke-width="1.0"/>
<text x="41.5" y="402.15" font-size="8.8" text-anchor="end" textLength="8.3" lengthAdjust="spacingAndGlyphs" >40</text>
<line x1="44.5" y1="420" x2="47.5" y2="420" stroke="#1e1e1e" stroke-width="1.0"/>
<text x="41.5" y="422.9" font-size="8.8" text-anchor="end" textLength="8.3" lengthAdjust="spacingAndGlyphs" >20</text>
<line x1="44.5" y1="440.75" x2="47.5" y2="440.75" stroke="#1e1e1e" stroke-width="1.0"/>
<text x="41.5" y="443.65" font-size="8.8" text-anchor="end" textLength="4.15" lengthAdjust="spacingAndGlyphs" >0</text>
<line x1="47.5" y1="440.75" x2="112.5" y2="440.75" stroke="#1e1e1e" stroke-width="1.3"/>
<line x1="65.625" y1="440.75" x2="65.625" y2="443.75" stroke="#1e1e1e" stroke-width="1.0"/>
<line x1="95.0" y1="440.75" x2="95.0" y2="443.75" stroke="#1e1e1e" stroke-width="1.0"/>
<rect x="60.35" y="397.35" width="10.55" height="43.40" fill="#C8102E" stroke="#A5001E" stroke-width="0.7"/>
<line x1="65.625" y1="397" x2="65.625" y2="393.25" stroke="#1e1e1e" stroke-width="1.0"/>
<line x1="63.125" y1="393.25" x2="68.125" y2="393.25" stroke="#1e1e1e" stroke-width="1.0"/>
<rect x="89.85" y="377.85" width="10.30" height="62.90" fill="#17508A" stroke="#0D3F74" stroke-width="0.7"/>
<line x1="95.0" y1="377.5" x2="95.0" y2="373.75" stroke="#1e1e1e" stroke-width="1.0"/>
<line x1="92.5" y1="373.75" x2="97.5" y2="373.75" stroke="#1e1e1e" stroke-width="1.0"/>
<line x1="65.5" y1="369.5" x2="96" y2="369.5" stroke="#8a8a8a" stroke-width="1.1"/>
<text x="80.75" y="369.6" font-size="9.5" text-anchor="middle" fill="#111" textLength="7.0" lengthAdjust="spacingAndGlyphs" >**</text>
<text x="65.625" y="452" font-size="8.5" text-anchor="middle" textLength="12" lengthAdjust="spacingAndGlyphs" >WT</text>
<text x="76.5" y="452" font-size="8.5" textLength="37" lengthAdjust="spacingAndGlyphs">PTPN22<tspan font-size="5.27" dy="-2.55">−/−</tspan></text>
<text x="14.2" y="431" font-size="10.2" textLength="67.10000000000002" lengthAdjust="spacingAndGlyphs" transform="rotate(-90 14.2 431)" stroke="#222" stroke-width="0.22">Platelet aggregation</text>
<text x="26" y="410.7" font-size="10.2" textLength="26.599999999999966" lengthAdjust="spacingAndGlyphs" transform="rotate(-90 26 410.7)" stroke="#222" stroke-width="0.22">(MAX%)</text>
<line x1="171.25" y1="353.5" x2="171.25" y2="440.75" stroke="#1e1e1e" stroke-width="1.3"/>
<line x1="168.25" y1="357.5" x2="171.25" y2="357.5" stroke="#1e1e1e" stroke-width="1.0"/>
<text x="165.25" y="360.4" font-size="8.8" text-anchor="end" textLength="12.450000000000001" lengthAdjust="spacingAndGlyphs" >200</text>
<line x1="168.25" y1="378.25" x2="171.25" y2="378.25" stroke="#1e1e1e" stroke-width="1.0"/>
<text x="165.25" y="381.15" font-size="8.8" text-anchor="end" textLength="12.450000000000001" lengthAdjust="spacingAndGlyphs" >150</text>
<line x1="168.25" y1="399.25" x2="171.25" y2="399.25" stroke="#1e1e1e" stroke-width="1.0"/>
<text x="165.25" y="402.15" font-size="8.8" text-anchor="end" textLength="12.450000000000001" lengthAdjust="spacingAndGlyphs" >100</text>
<line x1="168.25" y1="420" x2="171.25" y2="420" stroke="#1e1e1e" stroke-width="1.0"/>
<text x="165.25" y="422.9" font-size="8.8" text-anchor="end" textLength="8.3" lengthAdjust="spacingAndGlyphs" >50</text>
<line x1="168.25" y1="440.75" x2="171.25" y2="440.75" stroke="#1e1e1e" stroke-width="1.0"/>
<text x="165.25" y="443.65" font-size="8.8" text-anchor="end" textLength="4.15" lengthAdjust="spacingAndGlyphs" >0</text>
<line x1="171.25" y1="440.75" x2="237.5" y2="440.75" stroke="#1e1e1e" stroke-width="1.3"/>
<line x1="189.75" y1="440.75" x2="189.75" y2="443.75" stroke="#1e1e1e" stroke-width="1.0"/>
<line x1="219.0" y1="440.75" x2="219.0" y2="443.75" stroke="#1e1e1e" stroke-width="1.0"/>
<rect x="184.85" y="399.60" width="9.80" height="41.15" fill="#C8102E" stroke="#A5001E" stroke-width="0.7"/>
<rect x="214.10" y="384.10" width="9.80" height="56.65" fill="#17508A" stroke="#0D3F74" stroke-width="0.7"/>
<line x1="219.0" y1="383.75" x2="219.0" y2="380.5" stroke="#1e1e1e" stroke-width="1.0"/>
<line x1="216.5" y1="380.5" x2="221.5" y2="380.5" stroke="#1e1e1e" stroke-width="1.0"/>
<line x1="189.5" y1="369.5" x2="219.25" y2="369.5" stroke="#8a8a8a" stroke-width="1.1"/>
<text x="204.375" y="369.6" font-size="9.5" text-anchor="middle" fill="#111" textLength="7.0" lengthAdjust="spacingAndGlyphs" >**</text>
<text x="189.75" y="452" font-size="8.5" text-anchor="middle" textLength="12" lengthAdjust="spacingAndGlyphs" >WT</text>
<text x="200.5" y="452" font-size="8.5" textLength="37" lengthAdjust="spacingAndGlyphs">PTPN22<tspan font-size="5.27" dy="-2.55">−/−</tspan></text>
<text x="145.8" y="422.7" font-size="10.2" textLength="51.19999999999999" lengthAdjust="spacingAndGlyphs" transform="rotate(-90 145.8 422.7)" stroke="#222" stroke-width="0.22">ATP release (%)</text>
<line x1="447.5" y1="353.5" x2="447.5" y2="440.75" stroke="#1e1e1e" stroke-width="1.3"/>
<line x1="444.5" y1="357.5" x2="447.5" y2="357.5" stroke="#1e1e1e" stroke-width="1.0"/>
<text x="441.5" y="360.4" font-size="8.8" text-anchor="end" textLength="12.450000000000001" lengthAdjust="spacingAndGlyphs" >600</text>
<line x1="444.5" y1="385" x2="447.5" y2="385" stroke="#1e1e1e" stroke-width="1.0"/>
<text x="441.5" y="387.9" font-size="8.8" text-anchor="end" textLength="12.450000000000001" lengthAdjust="spacingAndGlyphs" >400</text>
<line x1="444.5" y1="413" x2="447.5" y2="413" stroke="#1e1e1e" stroke-width="1.0"/>
<text x="441.5" y="415.9" font-size="8.8" text-anchor="end" textLength="12.450000000000001" lengthAdjust="spacingAndGlyphs" >200</text>
<line x1="444.5" y1="440.75" x2="447.5" y2="440.75" stroke="#1e1e1e" stroke-width="1.0"/>
<text x="441.5" y="443.65" font-size="8.8" text-anchor="end" textLength="4.15" lengthAdjust="spacingAndGlyphs" >0</text>
<line x1="447.5" y1="440.75" x2="512" y2="440.75" stroke="#1e1e1e" stroke-width="1.3"/>
<line x1="465.25" y1="440.75" x2="465.25" y2="443.75" stroke="#1e1e1e" stroke-width="1.0"/>
<line x1="494.75" y1="440.75" x2="494.75" y2="443.75" stroke="#1e1e1e" stroke-width="1.0"/>
<rect x="460.35" y="406.60" width="9.80" height="34.15" fill="#C8102E" stroke="#A5001E" stroke-width="0.7"/>
<line x1="465.25" y1="406.25" x2="465.25" y2="401.25" stroke="#1e1e1e" stroke-width="1.0"/>
<line x1="462.75" y1="401.25" x2="467.75" y2="401.25" stroke="#1e1e1e" stroke-width="1.0"/>
<rect x="489.85" y="377.85" width="9.80" height="62.90" fill="#17508A" stroke="#0D3F74" stroke-width="0.7"/>
<line x1="494.75" y1="377.5" x2="494.75" y2="373" stroke="#1e1e1e" stroke-width="1.0"/>
<line x1="492.25" y1="373" x2="497.25" y2="373" stroke="#1e1e1e" stroke-width="1.0"/>
<line x1="465" y1="369.5" x2="495" y2="369.5" stroke="#8a8a8a" stroke-width="1.1"/>
<text x="480.0" y="369.6" font-size="9.5" text-anchor="middle" fill="#111" textLength="3.5" lengthAdjust="spacingAndGlyphs" >*</text>
<text x="465.25" y="452" font-size="8.5" text-anchor="middle" textLength="12" lengthAdjust="spacingAndGlyphs" >WT</text>
<text x="476.25" y="452" font-size="8.5" textLength="37" lengthAdjust="spacingAndGlyphs">PTPN22<tspan font-size="5.27" dy="-2.55">−/−</tspan></text>
<text x="421.6" y="431" font-size="10.2" textLength="67.10000000000002" lengthAdjust="spacingAndGlyphs" transform="rotate(-90 421.6 431)" stroke="#222" stroke-width="0.22">ADP release (ng/ml)</text>
<line x1="24.3" y1="236.7" x2="24.3" y2="321.3" stroke="#1e1e1e" stroke-width="1.3"/>
<line x1="24.3" y1="321.3" x2="120" y2="321.3" stroke="#1e1e1e" stroke-width="1.3"/>
<text x="18.3" y="304" font-size="10.2" textLength="69.30000000000001" lengthAdjust="spacingAndGlyphs" transform="rotate(-90 18.3 304)" stroke="#222" stroke-width="0.22">Light transmission (%)</text>
<line x1="15.8" y1="307.8" x2="15.8" y2="319.3" stroke="#1e1e1e" stroke-width="1.1"/>
<path d="M15.8 322.3 L13.5 317.8 L18.1 317.8 Z" fill="#1e1e1e"/>
<text x="41" y="333.7" font-size="9.6" textLength="42.7" lengthAdjust="spacingAndGlyphs" stroke="#222" stroke-width="0.18">Time (5 min)</text>
<line x1="86.8" y1="330.6" x2="98.3" y2="330.6" stroke="#1e1e1e" stroke-width="1.1"/>
<path d="M101.3 330.6 L96.8 328.3 L96.8 332.90000000000003 Z" fill="#1e1e1e"/>
<path d="M24.30 266.40 L24.42 266.46 L24.57 266.55 L24.75 266.66 L24.94 266.80 L25.15 266.93 L25.38 267.07 L25.62 267.19 L25.87 267.29 L26.13 267.36 L26.38 267.39 L26.64 267.38 L26.90 267.30 L27.15 267.16 L27.39 266.95 L27.63 266.69 L27.87 266.39 L28.12 266.06 L28.38 265.71 L28.66 265.35 L28.95 265.00 L29.26 264.65 L29.61 264.33 L29.99 264.04 L30.40 263.80 L30.85 263.59 L31.33 263.38 L31.84 263.18 L32.38 262.99 L32.94 262.81 L33.52 262.64 L34.13 262.50 L34.74 262.37 L35.37 262.26 L36.01 262.18 L36.65 262.13 L37.30 262.10 L37.96 262.10 L38.65 262.12 L39.35 262.15 L40.07 262.21 L40.80 262.30 L41.54 262.40 L42.29 262.53 L43.04 262.67 L43.79 262.85 L44.53 263.04 L45.27 263.26 L46.00 263.50 L46.72 263.77 L47.44 264.08 L48.15 264.41 L48.87 264.77 L49.59 265.16 L50.30 265.56 L51.01 265.98 L51.73 266.41 L52.45 266.86 L53.16 267.30 L53.88 267.75 L54.60 268.20 L55.32 268.65 L56.05 269.12 L56.77 269.61 L57.50 270.10 L58.22 270.60 L58.95 271.11 L59.68 271.63 L60.40 272.14 L61.13 272.66 L61.85 273.18 L62.58 273.69 L63.30 274.20 L64.02 274.71 L64.74 275.22 L65.45 275.74 L66.17 276.26 L66.89 276.78 L67.60 277.30 L68.31 277.82 L69.03 278.33 L69.75 278.84 L70.46 279.33 L71.18 279.82 L71.90 280.30 L72.62 280.77 L73.35 281.23 L74.07 281.68 L74.80 282.13 L75.52 282.58 L76.25 283.01 L76.98 283.44 L77.70 283.87 L78.43 284.28 L79.15 284.70 L79.88 285.10 L80.60 285.50 L81.32 285.89 L82.03 286.28 L82.74 286.67 L83.44 287.04 L84.14 287.42 L84.85 287.78 L85.56 288.14 L86.27 288.49 L86.99 288.83 L87.72 289.16 L88.45 289.49 L89.20 289.80 L89.99 290.11 L90.84 290.42 L91.73 290.73 L92.65 291.04 L93.58 291.33 L94.49 291.62 L95.37 291.89 L96.20 292.14 L96.97 292.37 L97.66 292.58 L98.24 292.75 L98.70 292.90" fill="none" stroke="#C8102E" stroke-width="1.6" stroke-linejoin="round" stroke-linecap="round"/>
<line x1="26.4" y1="257.8" x2="26.4" y2="267" stroke="#C8102E" stroke-width="1.1"/>
<path d="M24.30 266.40 L24.60 266.34 L24.97 266.25 L25.42 266.15 L25.91 266.03 L26.45 265.90 L27.02 265.77 L27.61 265.65 L28.21 265.53 L28.80 265.42 L29.36 265.32 L29.90 265.25 L30.40 265.20 L30.86 265.17 L31.32 265.14 L31.76 265.12 L32.20 265.10 L32.63 265.10 L33.06 265.11 L33.48 265.14 L33.90 265.19 L34.32 265.25 L34.74 265.34 L35.17 265.46 L35.60 265.60 L36.03 265.76 L36.45 265.93 L36.86 266.11 L37.27 266.31 L37.68 266.54 L38.09 266.78 L38.51 267.06 L38.94 267.36 L39.38 267.71 L39.83 268.09 L40.31 268.52 L40.80 269.00 L41.32 269.54 L41.85 270.14 L42.41 270.80 L42.97 271.51 L43.55 272.25 L44.14 273.02 L44.74 273.81 L45.34 274.61 L45.94 275.41 L46.53 276.19 L47.12 276.96 L47.70 277.70 L48.27 278.42 L48.83 279.15 L49.38 279.88 L49.93 280.60 L50.48 281.33 L51.04 282.06 L51.60 282.78 L52.17 283.50 L52.75 284.21 L53.35 284.91 L53.96 285.61 L54.60 286.30 L55.26 286.99 L55.95 287.69 L56.65 288.39 L57.37 289.09 L58.10 289.78 L58.84 290.47 L59.59 291.14 L60.34 291.79 L61.09 292.41 L61.83 293.01 L62.57 293.58 L63.30 294.10 L64.00 294.58 L64.68 295.02 L65.34 295.42 L65.98 295.79 L66.63 296.13 L67.28 296.46 L67.95 296.78 L68.65 297.09 L69.39 297.40 L70.17 297.72 L71.00 298.05 L71.90 298.40 L72.87 298.77 L73.91 299.14 L75.00 299.53 L76.14 299.91 L77.32 300.30 L78.53 300.69 L79.74 301.07 L80.97 301.44 L82.18 301.80 L83.39 302.15 L84.56 302.49 L85.70 302.80 L86.85 303.10 L88.06 303.40 L89.31 303.70 L90.57 303.99 L91.83 304.26 L93.06 304.53 L94.25 304.77 L95.36 305.00 L96.38 305.21 L97.29 305.40 L98.07 305.56 L98.70 305.70" fill="none" stroke="#17508A" stroke-width="1.6" stroke-linejoin="round" stroke-linecap="round"/>
<text x="87.5" y="288" font-size="8.5" textLength="11.5" lengthAdjust="spacingAndGlyphs" >WT</text>
<text x="62.5" y="315.5" font-size="8.5" textLength="36" lengthAdjust="spacingAndGlyphs">PTPN22<tspan font-size="5.27" dy="-2.55">−/−</tspan></text>
<line x1="155.3" y1="236.7" x2="155.3" y2="321.3" stroke="#1e1e1e" stroke-width="1.3"/>
<line x1="155.3" y1="321.3" x2="251.25" y2="321.3" stroke="#1e1e1e" stroke-width="1.3"/>
<text x="150" y="312.7" font-size="10.2" textLength="50.0" lengthAdjust="spacingAndGlyphs" transform="rotate(-90 150 312.7)" stroke="#222" stroke-width="0.22">ATP release (%)</text>
<line x1="146.8" y1="259.2" x2="146.8" y2="248.2" stroke="#1e1e1e" stroke-width="1.1"/>
<path d="M146.8 245.2 L144.5 249.7 L149.10000000000002 249.7 Z" fill="#1e1e1e"/>
<text x="172.5" y="333.7" font-size="9.6" textLength="42.7" lengthAdjust="spacingAndGlyphs" stroke="#222" stroke-width="0.18">Time (5 min)</text>
<line x1="218.3" y1="330.6" x2="229.8" y2="330.6" stroke="#1e1e1e" stroke-width="1.1"/>
<path d="M232.8 330.6 L228.3 328.3 L228.3 332.90000000000003 Z" fill="#1e1e1e"/>
<path d="M155.80 297.30 L155.94 297.15 L156.12 297.00 L156.32 296.84 L156.56 296.67 L156.81 296.48 L157.07 296.24 L157.35 295.96 L157.63 295.63 L157.91 295.22 L158.19 294.74 L158.45 294.17 L158.70 293.50 L158.94 292.70 L159.17 291.77 L159.40 290.72 L159.64 289.57 L159.87 288.37 L160.10 287.11 L160.33 285.84 L160.56 284.57 L160.80 283.33 L161.03 282.14 L161.26 281.02 L161.50 280.00 L161.73 279.04 L161.96 278.10 L162.17 277.18 L162.39 276.29 L162.61 275.41 L162.82 274.57 L163.05 273.77 L163.29 273.00 L163.54 272.28 L163.81 271.60 L164.09 270.97 L164.40 270.40 L164.73 269.88 L165.08 269.42 L165.44 269.00 L165.82 268.63 L166.21 268.30 L166.62 268.01 L167.03 267.76 L167.46 267.54 L167.89 267.34 L168.32 267.18 L168.76 267.03 L169.20 266.90 L169.62 266.80 L170.02 266.73 L170.40 266.69 L170.77 266.68 L171.16 266.70 L171.56 266.74 L171.99 266.82 L172.46 266.91 L172.99 267.03 L173.58 267.17 L174.24 267.32 L175.00 267.50 L175.86 267.71 L176.83 267.96 L177.88 268.25 L179.00 268.56 L180.18 268.90 L181.39 269.26 L182.63 269.62 L183.86 269.98 L185.09 270.34 L186.28 270.68 L187.42 271.00 L188.50 271.30 L189.51 271.57 L190.47 271.84 L191.38 272.09 L192.27 272.33 L193.14 272.57 L194.01 272.81 L194.90 273.04 L195.81 273.27 L196.76 273.50 L197.77 273.73 L198.84 273.96 L200.00 274.20 L201.21 274.44 L202.44 274.69 L203.69 274.93 L204.98 275.18 L206.31 275.43 L207.69 275.67 L209.12 275.92 L210.61 276.16 L212.16 276.40 L213.79 276.64 L215.50 276.87 L217.30 277.10 L219.29 277.33 L221.54 277.57 L223.98 277.81 L226.55 278.06 L229.19 278.30 L231.83 278.53 L234.41 278.76 L236.87 278.97 L239.14 279.16 L241.16 279.33 L242.87 279.48 L244.20 279.60" fill="none" stroke="#17508A" stroke-width="1.6" stroke-linejoin="round" stroke-linecap="round"/>
<path d="M155.80 297.30 L156.26 297.25 L156.84 297.20 L157.53 297.14 L158.29 297.07 L159.12 297.00 L160.00 296.92 L160.91 296.83 L161.84 296.74 L162.78 296.64 L163.69 296.53 L164.57 296.42 L165.40 296.30 L166.20 296.18 L167.00 296.05 L167.80 295.91 L168.60 295.77 L169.40 295.62 L170.20 295.47 L171.00 295.31 L171.80 295.14 L172.60 294.97 L173.40 294.78 L174.20 294.60 L175.00 294.40 L175.80 294.19 L176.60 293.97 L177.40 293.73 L178.20 293.49 L179.00 293.23 L179.80 292.97 L180.60 292.72 L181.40 292.46 L182.20 292.21 L183.00 291.96 L183.80 291.72 L184.60 291.50 L185.39 291.28 L186.15 291.06 L186.91 290.84 L187.66 290.62 L188.40 290.41 L189.16 290.20 L189.92 290.00 L190.71 289.81 L191.53 289.63 L192.37 289.47 L193.26 289.33 L194.20 289.20 L195.16 289.09 L196.14 289.01 L197.12 288.93 L198.13 288.88 L199.16 288.83 L200.23 288.80 L201.34 288.77 L202.49 288.76 L203.70 288.74 L204.97 288.73 L206.30 288.71 L207.70 288.70 L209.21 288.69 L210.84 288.68 L212.57 288.67 L214.38 288.67 L216.24 288.67 L218.13 288.68 L220.03 288.69 L221.91 288.71 L223.75 288.73 L225.53 288.75 L227.22 288.77 L228.80 288.80 L230.33 288.83 L231.87 288.88 L233.41 288.93 L234.93 288.99 L236.40 289.04 L237.82 289.11 L239.16 289.17 L240.42 289.23 L241.57 289.28 L242.59 289.33 L243.47 289.37 L244.20 289.40" fill="none" stroke="#C8102E" stroke-width="1.6" stroke-linejoin="round" stroke-linecap="round"/>
<text x="207.5" y="273.75" font-size="8.5" textLength="36" lengthAdjust="spacingAndGlyphs">PTPN22<tspan font-size="5.27" dy="-2.55">−/−</tspan></text>
<text x="232" y="297.5" font-size="8.5" textLength="11.5" lengthAdjust="spacingAndGlyphs" >WT</text>
<line x1="288.3" y1="236.7" x2="288.3" y2="321.3" stroke="#1e1e1e" stroke-width="1.3"/>
<line x1="288.3" y1="321.3" x2="383.75" y2="321.3" stroke="#1e1e1e" stroke-width="1.3"/>
<text x="282.7" y="304" font-size="10.2" textLength="69.30000000000001" lengthAdjust="spacingAndGlyphs" transform="rotate(-90 282.7 304)" stroke="#222" stroke-width="0.22">Light transmission (%)</text>
<line x1="280.2" y1="307.8" x2="280.2" y2="319.3" stroke="#1e1e1e" stroke-width="1.1"/>
<path d="M280.2 322.3 L277.9 317.8 L282.5 317.8 Z" fill="#1e1e1e"/>
<text x="305.75" y="333.7" font-size="9.6" textLength="42.7" lengthAdjust="spacingAndGlyphs" stroke="#222" stroke-width="0.18">Time (5 min)</text>
<line x1="351.55" y1="330.6" x2="363.05" y2="330.6" stroke="#1e1e1e" stroke-width="1.1"/>
<path d="M366.05 330.6 L361.55 328.3 L361.55 332.90000000000003 Z" fill="#1e1e1e"/>
<path d="M288.70 254.60 L289.05 254.55 L289.49 254.49 L290.01 254.42 L290.59 254.33 L291.22 254.24 L291.89 254.15 L292.59 254.06 L293.30 253.97 L294.00 253.88 L294.70 253.81 L295.37 253.75 L296.00 253.70 L296.61 253.66 L297.22 253.62 L297.82 253.57 L298.43 253.53 L299.04 253.49 L299.65 253.47 L300.26 253.46 L300.87 253.46 L301.48 253.48 L302.08 253.53 L302.69 253.60 L303.30 253.70 L303.91 253.82 L304.52 253.95 L305.12 254.10 L305.73 254.26 L306.34 254.44 L306.95 254.64 L307.56 254.87 L308.17 255.13 L308.78 255.42 L309.38 255.74 L309.99 256.10 L310.60 256.50 L311.21 256.95 L311.82 257.45 L312.43 257.99 L313.03 258.57 L313.64 259.18 L314.25 259.81 L314.86 260.47 L315.47 261.13 L316.07 261.81 L316.68 262.48 L317.29 263.15 L317.90 263.80 L318.50 264.45 L319.07 265.11 L319.64 265.79 L320.20 266.47 L320.75 267.15 L321.32 267.84 L321.90 268.54 L322.49 269.23 L323.11 269.93 L323.77 270.62 L324.46 271.31 L325.20 272.00 L325.99 272.69 L326.82 273.41 L327.69 274.13 L328.59 274.87 L329.52 275.60 L330.47 276.33 L331.43 277.04 L332.40 277.73 L333.36 278.40 L334.32 279.04 L335.27 279.64 L336.20 280.20 L337.11 280.72 L337.99 281.21 L338.87 281.67 L339.73 282.10 L340.60 282.51 L341.48 282.90 L342.36 283.26 L343.27 283.61 L344.20 283.93 L345.16 284.24 L346.16 284.53 L347.20 284.80 L348.30 285.05 L349.45 285.27 L350.64 285.46 L351.87 285.63 L353.12 285.77 L354.39 285.91 L355.66 286.03 L356.93 286.14 L358.19 286.25 L359.43 286.36 L360.63 286.48 L361.80 286.60 L362.97 286.73 L364.19 286.86 L365.43 286.99 L366.67 287.12 L367.91 287.24 L369.11 287.36 L370.27 287.48 L371.35 287.58 L372.34 287.68 L373.23 287.76 L373.99 287.84 L374.60 287.90" fill="none" stroke="#C8102E" stroke-width="1.6" stroke-linejoin="round" stroke-linecap="round"/>
<line x1="292" y1="245.5" x2="292" y2="255" stroke="#C8102E" stroke-width="1.1"/>
<path d="M288.70 254.70 L288.96 254.57 L289.29 254.43 L289.67 254.53 L290.10 254.56 L290.56 254.20 L291.06 254.33 L291.57 254.30 L292.09 254.52 L292.62 254.56 L293.13 254.32 L293.63 254.67 L294.10 254.75 L294.55 254.64 L295.01 254.90 L295.47 254.91 L295.93 255.45 L296.38 255.59 L296.84 255.96 L297.30 256.20 L297.76 256.47 L298.22 256.89 L298.68 257.25 L299.14 257.53 L299.60 258.34 L300.05 258.71 L300.50 259.51 L300.93 260.63 L301.37 261.14 L301.80 262.08 L302.24 263.04 L302.68 264.42 L303.13 265.08 L303.60 266.02 L304.08 267.45 L304.58 268.11 L305.10 269.47 L305.64 270.39 L306.19 271.51 L306.75 272.62 L307.04 272.97 L307.33 273.62 L307.62 273.78 L307.92 274.69 L308.22 275.11 L308.52 275.76 L308.83 276.00 L309.13 276.87 L309.45 277.50 L309.76 277.61 L310.08 278.28 L310.40 278.94 L310.73 279.60 L311.05 279.83 L311.39 280.32 L311.72 280.87 L312.06 281.56 L312.40 282.13 L312.75 282.44 L313.10 282.93 L313.46 283.44 L313.82 283.92 L314.20 284.46 L314.57 284.79 L314.95 285.50 L315.33 286.23 L315.72 286.45 L316.10 287.11 L316.50 287.30 L316.89 288.05 L317.28 288.55 L317.68 288.98 L318.07 289.36 L318.47 289.80 L319.26 290.75 L320.05 291.70 L320.83 292.11 L321.60 292.80 L322.36 293.78 L323.12 294.46 L323.88 294.81 L324.64 295.28 L325.40 296.04 L326.16 295.83 L326.91 296.34 L327.67 296.64 L328.43 297.48 L329.18 297.53 L329.94 297.80 L330.70 298.73 L331.44 299.42 L332.15 298.99 L332.84 299.82 L333.53 299.80 L334.21 300.64 L334.90 300.63 L335.61 300.54 L336.35 300.77 L337.13 300.82 L337.96 301.64 L338.85 301.79 L339.80 301.81 L340.85 302.30 L342.01 302.50 L342.63 303.17 L343.25 302.54 L343.91 303.68 L344.56 303.18 L345.23 303.44 L345.90 303.40 L346.58 303.96 L347.26 304.05 L347.94 303.85 L348.62 303.87 L349.28 304.26 L349.94 304.53 L350.58 304.09 L351.21 304.59 L351.81 304.96 L352.41 304.47 L353.52 304.39 L354.50 304.58 L355.37 305.34 L356.17 305.46 L356.89 305.96 L357.55 305.99 L358.16 305.40 L358.73 305.48 L359.26 305.70 L359.77 305.75 L360.27 306.51 L360.77 306.83 L361.28 307.03 L361.80 306.41 L362.33 307.29 L362.84 306.78 L363.35 307.06 L363.84 307.57 L364.32 306.95 L364.78 307.10 L365.23 308.15 L365.67 307.65 L366.10 307.89 L366.51 308.33 L366.91 308.62 L367.30 308.01 L367.68 308.61 L368.05 308.96 L368.42 309.27 L368.77 309.19 L369.12 309.91 L369.44 310.62 L369.75 310.20 L370.04 310.62 L370.30 310.34 L370.53 310.73 L370.73 311.37 L370.90 310.84" fill="none" stroke="#17508A" stroke-width="1.6" stroke-linejoin="round" stroke-linecap="round"/>
<path d="M370.50 312.24 L371.00 312.81 L371.50 310.71 L372.00 313.91 L372.50 312.60 L373.00 314.37 L373.50 314.82 L374.00 313.85 L374.50 315.56 L375.00 315.99" fill="none" stroke="#17508A" stroke-width="1.5" stroke-linejoin="round"/>
<text x="360.75" y="283" font-size="8.5" textLength="12" lengthAdjust="spacingAndGlyphs" >WT</text>
<text x="328.75" y="316" font-size="8.5" textLength="36" lengthAdjust="spacingAndGlyphs">PTPN22<tspan font-size="5.27" dy="-2.55">−/−</tspan></text>
<line x1="300" y1="354" x2="300" y2="440.75" stroke="#1e1e1e" stroke-width="1.3"/>
<line x1="297" y1="358" x2="300" y2="358" stroke="#1e1e1e" stroke-width="1.0"/>
<text x="294" y="360.9" font-size="8.8" text-anchor="end" textLength="8.3" lengthAdjust="spacingAndGlyphs" >50</text>
<line x1="297" y1="374.5" x2="300" y2="374.5" stroke="#1e1e1e" stroke-width="1.0"/>
<text x="294" y="377.4" font-size="8.8" text-anchor="end" textLength="8.3" lengthAdjust="spacingAndGlyphs" >40</text>
<line x1="297" y1="391.25" x2="300" y2="391.25" stroke="#1e1e1e" stroke-width="1.0"/>
<text x="294" y="394.15" font-size="8.8" text-anchor="end" textLength="8.3" lengthAdjust="spacingAndGlyphs" >30</text>
<line x1="297" y1="407.5" x2="300" y2="407.5" stroke="#1e1e1e" stroke-width="1.0"/>
<text x="294" y="410.4" font-size="8.8" text-anchor="end" textLength="8.3" lengthAdjust="spacingAndGlyphs" >20</text>
<line x1="297" y1="424" x2="300" y2="424" stroke="#1e1e1e" stroke-width="1.0"/>
<text x="294" y="426.9" font-size="8.8" text-anchor="end" textLength="8.3" lengthAdjust="spacingAndGlyphs" >10</text>
<line x1="297" y1="440.75" x2="300" y2="440.75" stroke="#1e1e1e" stroke-width="1.0"/>
<text x="294" y="443.65" font-size="8.8" text-anchor="end" textLength="4.15" lengthAdjust="spacingAndGlyphs" >0</text>
<line x1="300" y1="440.75" x2="383.75" y2="440.75" stroke="#1e1e1e" stroke-width="1.3"/>
<line x1="314.5" y1="440.75" x2="314.5" y2="443.75" stroke="#1e1e1e" stroke-width="1.0"/>
<line x1="342.5" y1="440.75" x2="342.5" y2="443.75" stroke="#1e1e1e" stroke-width="1.0"/>
<line x1="371.25" y1="440.75" x2="371.25" y2="443.75" stroke="#1e1e1e" stroke-width="1.0"/>
<rect x="304.85" y="438.85" width="8.55" height="1.90" fill="#C8102E" stroke="#A5001E" stroke-width="0.7"/>
<line x1="309.125" y1="438.5" x2="309.125" y2="437.5" stroke="#1e1e1e" stroke-width="1.0"/>
<line x1="306.625" y1="437.5" x2="311.625" y2="437.5" stroke="#1e1e1e" stroke-width="1.0"/>
<rect x="315.85" y="438.15" width="8.80" height="2.60" fill="#17508A" stroke="#0D3F74" stroke-width="0.7"/>
<line x1="320.25" y1="437.8" x2="320.25" y2="436.8" stroke="#1e1e1e" stroke-width="1.0"/>
<line x1="317.75" y1="436.8" x2="322.75" y2="436.8" stroke="#1e1e1e" stroke-width="1.0"/>
<rect x="332.85" y="405.85" width="8.80" height="34.90" fill="#C8102E" stroke="#A5001E" stroke-width="0.7"/>
<line x1="337.25" y1="405.5" x2="337.25" y2="402" stroke="#1e1e1e" stroke-width="1.0"/>
<line x1="334.75" y1="402" x2="339.75" y2="402" stroke="#1e1e1e" stroke-width="1.0"/>
<rect x="344.10" y="390.85" width="8.55" height="49.90" fill="#17508A" stroke="#0D3F74" stroke-width="0.7"/>
<line x1="348.375" y1="390.5" x2="348.375" y2="387.5" stroke="#1e1e1e" stroke-width="1.0"/>
<line x1="345.875" y1="387.5" x2="350.875" y2="387.5" stroke="#1e1e1e" stroke-width="1.0"/>
<rect x="361.60" y="390.35" width="8.55" height="50.40" fill="#C8102E" stroke="#A5001E" stroke-width="0.7"/>
<line x1="365.875" y1="390" x2="365.875" y2="385" stroke="#1e1e1e" stroke-width="1.0"/>
<line x1="363.375" y1="385" x2="368.375" y2="385" stroke="#1e1e1e" stroke-width="1.0"/>
<rect x="372.35" y="374.10" width="8.55" height="66.65" fill="#17508A" stroke="#0D3F74" stroke-width="0.7"/>
<line x1="376.625" y1="373.75" x2="376.625" y2="370" stroke="#1e1e1e" stroke-width="1.0"/>
<line x1="374.125" y1="370" x2="379.125" y2="370" stroke="#1e1e1e" stroke-width="1.0"/>
<line x1="338.75" y1="383.75" x2="348.75" y2="383.75" stroke="#8a8a8a" stroke-width="1.1"/>
<text x="343.75" y="383.85" font-size="9.5" text-anchor="middle" fill="#111" textLength="7.0" lengthAdjust="spacingAndGlyphs" >**</text>
<line x1="366.25" y1="367" x2="376.25" y2="367" stroke="#8a8a8a" stroke-width="1.1"/>
<text x="371.25" y="367.1" font-size="9.5" text-anchor="middle" fill="#111" textLength="7.0" lengthAdjust="spacingAndGlyphs" >**</text>
<rect x="304.2" y="355.9" width="5.2" height="5.2" fill="#C8102E"/>
<rect x="304.2" y="365.3" width="5.2" height="5.2" fill="#17508A"/>
<text x="312.8" y="361.2" font-size="8.5" textLength="11.5" lengthAdjust="spacingAndGlyphs" >WT</text>
<text x="312.8" y="370.6" font-size="8.5" textLength="34" lengthAdjust="spacingAndGlyphs">PTPN22<tspan font-size="5.27" dy="-2.55">−/−</tspan></text>
<text x="314.5" y="452.5" font-size="8.5" text-anchor="middle" textLength="26" lengthAdjust="spacingAndGlyphs" >Resting</text>
<text x="342.5" y="452.5" font-size="8.5" text-anchor="middle" textLength="11" lengthAdjust="spacingAndGlyphs" >0.1</text>
<text x="371.25" y="452.5" font-size="8.5" text-anchor="middle" textLength="11" lengthAdjust="spacingAndGlyphs" >0.5</text>
<text x="337.2" y="466.1" font-size="10" textLength="40.3" lengthAdjust="spacingAndGlyphs" >CRP (μg/ml)</text>
<text x="278.3" y="428.4" font-size="10.2" textLength="62.599999999999966" lengthAdjust="spacingAndGlyphs" transform="rotate(-90 278.3 428.4)" stroke="#222" stroke-width="0.22">P-selectin level (%)</text>
<line x1="47.5" y1="466" x2="47.5" y2="553" stroke="#1e1e1e" stroke-width="1.3"/>
<line x1="44.5" y1="470" x2="47.5" y2="470" stroke="#1e1e1e" stroke-width="1.0"/>
<text x="41.5" y="472.9" font-size="8.8" text-anchor="end" textLength="8.3" lengthAdjust="spacingAndGlyphs" >80</text>
<line x1="44.5" y1="491" x2="47.5" y2="491" stroke="#1e1e1e" stroke-width="1.0"/>
<text x="41.5" y="493.9" font-size="8.8" text-anchor="end" textLength="8.3" lengthAdjust="spacingAndGlyphs" >60</text>
<line x1="44.5" y1="511.75" x2="47.5" y2="511.75" stroke="#1e1e1e" stroke-width="1.0"/>
<text x="41.5" y="514.65" font-size="8.8" text-anchor="end" textLength="8.3" lengthAdjust="spacingAndGlyphs" >40</text>
<line x1="44.5" y1="532.5" x2="47.5" y2="532.5" stroke="#1e1e1e" stroke-width="1.0"/>
<text x="41.5" y="535.4" font-size="8.8" text-anchor="end" textLength="8.3" lengthAdjust="spacingAndGlyphs" >20</text>
<line x1="44.5" y1="553" x2="47.5" y2="553" stroke="#1e1e1e" stroke-width="1.0"/>
<text x="41.5" y="555.9" font-size="8.8" text-anchor="end" textLength="4.15" lengthAdjust="spacingAndGlyphs" >0</text>
<line x1="47.5" y1="553" x2="220" y2="553" stroke="#1e1e1e" stroke-width="1.3"/>
<line x1="81.25" y1="553" x2="81.25" y2="556" stroke="#1e1e1e" stroke-width="1.0"/>
<line x1="133.75" y1="553" x2="133.75" y2="556" stroke="#1e1e1e" stroke-width="1.0"/>
<line x1="189.5" y1="553" x2="189.5" y2="556" stroke="#1e1e1e" stroke-width="1.0"/>
<rect x="71.60" y="551.65" width="8.55" height="1.35" fill="#C8102E" stroke="#A5001E" stroke-width="0.7"/>
<line x1="75.875" y1="551.3" x2="75.875" y2="550.5" stroke="#1e1e1e" stroke-width="1.0"/>
<line x1="73.375" y1="550.5" x2="78.375" y2="550.5" stroke="#1e1e1e" stroke-width="1.0"/>
<rect x="82.35" y="551.85" width="8.80" height="1.15" fill="#17508A" stroke="#0D3F74" stroke-width="0.7"/>
<line x1="86.75" y1="551.5" x2="86.75" y2="550.8" stroke="#1e1e1e" stroke-width="1.0"/>
<line x1="84.25" y1="550.8" x2="89.25" y2="550.8" stroke="#1e1e1e" stroke-width="1.0"/>
<rect x="125.35" y="513.35" width="9.55" height="39.65" fill="#C8102E" stroke="#A5001E" stroke-width="0.7"/>
<line x1="130.125" y1="513" x2="130.125" y2="508.75" stroke="#1e1e1e" stroke-width="1.0"/>
<line x1="127.625" y1="508.75" x2="132.625" y2="508.75" stroke="#1e1e1e" stroke-width="1.0"/>
<rect x="136.60" y="500.85" width="9.30" height="52.15" fill="#17508A" stroke="#0D3F74" stroke-width="0.7"/>
<line x1="141.25" y1="500.5" x2="141.25" y2="495.5" stroke="#1e1e1e" stroke-width="1.0"/>
<line x1="138.75" y1="495.5" x2="143.75" y2="495.5" stroke="#1e1e1e" stroke-width="1.0"/>
<rect x="179.10" y="500.35" width="9.55" height="52.65" fill="#C8102E" stroke="#A5001E" stroke-width="0.7"/>
<line x1="183.875" y1="500" x2="183.875" y2="498.75" stroke="#1e1e1e" stroke-width="1.0"/>
<line x1="181.375" y1="498.75" x2="186.375" y2="498.75" stroke="#1e1e1e" stroke-width="1.0"/>
<rect x="190.35" y="489.60" width="9.80" height="63.40" fill="#17508A" stroke="#0D3F74" stroke-width="0.7"/>
<line x1="195.25" y1="489.25" x2="195.25" y2="485" stroke="#1e1e1e" stroke-width="1.0"/>
<line x1="192.75" y1="485" x2="197.75" y2="485" stroke="#1e1e1e" stroke-width="1.0"/>
<line x1="130" y1="492.7" x2="141" y2="492.7" stroke="#8a8a8a" stroke-width="1.1"/>
<text x="135.5" y="492.8" font-size="9.5" text-anchor="middle" fill="#111" textLength="3.5" lengthAdjust="spacingAndGlyphs" >*</text>
<line x1="183.75" y1="482.5" x2="195.5" y2="482.5" stroke="#8a8a8a" stroke-width="1.1"/>
<text x="189.625" y="482.6" font-size="9.5" text-anchor="middle" fill="#111" textLength="3.5" lengthAdjust="spacingAndGlyphs" >*</text>
<rect x="53.9" y="470.7" width="5.2" height="5.2" fill="#C8102E"/>
<rect x="53.9" y="479.7" width="5.2" height="5.2" fill="#17508A"/>
<text x="62.5" y="476.0" font-size="8.5" textLength="11.5" lengthAdjust="spacingAndGlyphs" >WT</text>
<text x="62.5" y="485.0" font-size="8.5" textLength="34" lengthAdjust="spacingAndGlyphs">PTPN22<tspan font-size="5.27" dy="-2.55">−/−</tspan></text>
<text x="81.25" y="566.25" font-size="8.5" text-anchor="middle" textLength="26" lengthAdjust="spacingAndGlyphs" >Resting</text>
<text x="133.75" y="566.25" font-size="8.5" text-anchor="middle" textLength="11" lengthAdjust="spacingAndGlyphs" >0.1</text>
<text x="189.5" y="566.25" font-size="8.5" text-anchor="middle" textLength="11" lengthAdjust="spacingAndGlyphs" >0.5</text>
<text x="142.1" y="579" font-size="10" textLength="41.1" lengthAdjust="spacingAndGlyphs" >CRP (μg/ml)</text>
<text x="26.1" y="541" font-size="10.2" textLength="63.30000000000001" lengthAdjust="spacingAndGlyphs" transform="rotate(-90 26.1 541)" stroke="#222" stroke-width="0.22">JON/A binding (%)</text>
<line x1="47" y1="593" x2="47" y2="680" stroke="#1e1e1e" stroke-width="1.3"/>
<line x1="44" y1="597" x2="47" y2="597" stroke="#1e1e1e" stroke-width="1.0"/>
<text x="41" y="599.9" font-size="8.8" text-anchor="end" textLength="8.3" lengthAdjust="spacingAndGlyphs" >80</text>
<line x1="44" y1="617.5" x2="47" y2="617.5" stroke="#1e1e1e" stroke-width="1.0"/>
<text x="41" y="620.4" font-size="8.8" text-anchor="end" textLength="8.3" lengthAdjust="spacingAndGlyphs" >60</text>
<line x1="44" y1="638.25" x2="47" y2="638.25" stroke="#1e1e1e" stroke-width="1.0"/>
<text x="41" y="641.15" font-size="8.8" text-anchor="end" textLength="8.3" lengthAdjust="spacingAndGlyphs" >40</text>
<line x1="44" y1="659" x2="47" y2="659" stroke="#1e1e1e" stroke-width="1.0"/>
<text x="41" y="661.9" font-size="8.8" text-anchor="end" textLength="8.3" lengthAdjust="spacingAndGlyphs" >20</text>
<line x1="44" y1="680" x2="47" y2="680" stroke="#1e1e1e" stroke-width="1.0"/>
<text x="41" y="682.9" font-size="8.8" text-anchor="end" textLength="4.15" lengthAdjust="spacingAndGlyphs" >0</text>
<line x1="47" y1="680" x2="220" y2="680" stroke="#1e1e1e" stroke-width="1.3"/>
<line x1="63.75" y1="680" x2="63.75" y2="683" stroke="#1e1e1e" stroke-width="1.0"/>
<line x1="98.75" y1="680" x2="98.75" y2="683" stroke="#1e1e1e" stroke-width="1.0"/>
<line x1="133.75" y1="680" x2="133.75" y2="683" stroke="#1e1e1e" stroke-width="1.0"/>
<line x1="170" y1="680" x2="170" y2="683" stroke="#1e1e1e" stroke-width="1.0"/>
<line x1="206.25" y1="680" x2="206.25" y2="683" stroke="#1e1e1e" stroke-width="1.0"/>
<rect x="54.10" y="678.35" width="8.55" height="1.65" fill="#C8102E" stroke="#A5001E" stroke-width="0.7"/>
<line x1="58.375" y1="678" x2="58.375" y2="676.5" stroke="#1e1e1e" stroke-width="1.0"/>
<line x1="55.875" y1="676.5" x2="60.875" y2="676.5" stroke="#1e1e1e" stroke-width="1.0"/>
<rect x="64.85" y="677.85" width="8.55" height="2.15" fill="#17508A" stroke="#0D3F74" stroke-width="0.7"/>
<line x1="69.125" y1="677.5" x2="69.125" y2="675" stroke="#1e1e1e" stroke-width="1.0"/>
<line x1="66.625" y1="675" x2="71.625" y2="675" stroke="#1e1e1e" stroke-width="1.0"/>
<rect x="89.10" y="669.85" width="9.30" height="10.15" fill="#C8102E" stroke="#A5001E" stroke-width="0.7"/>
<line x1="93.75" y1="669.5" x2="93.75" y2="667.5" stroke="#1e1e1e" stroke-width="1.0"/>
<line x1="91.25" y1="667.5" x2="96.25" y2="667.5" stroke="#1e1e1e" stroke-width="1.0"/>
<rect x="100.35" y="644.10" width="9.30" height="35.90" fill="#17508A" stroke="#0D3F74" stroke-width="0.7"/>
<line x1="105.0" y1="643.75" x2="105.0" y2="640.5" stroke="#1e1e1e" stroke-width="1.0"/>
<line x1="102.5" y1="640.5" x2="107.5" y2="640.5" stroke="#1e1e1e" stroke-width="1.0"/>
<rect x="125.35" y="647.85" width="8.80" height="32.15" fill="#C8102E" stroke="#A5001E" stroke-width="0.7"/>
<line x1="129.75" y1="647.5" x2="129.75" y2="643.5" stroke="#1e1e1e" stroke-width="1.0"/>
<line x1="127.25" y1="643.5" x2="132.25" y2="643.5" stroke="#1e1e1e" stroke-width="1.0"/>
<rect x="135.85" y="635.35" width="9.30" height="44.65" fill="#17508A" stroke="#0D3F74" stroke-width="0.7"/>
<line x1="140.5" y1="635" x2="140.5" y2="631.25" stroke="#1e1e1e" stroke-width="1.0"/>
<line x1="138.0" y1="631.25" x2="143.0" y2="631.25" stroke="#1e1e1e" stroke-width="1.0"/>
<rect x="160.35" y="638.60" width="9.30" height="41.40" fill="#C8102E" stroke="#A5001E" stroke-width="0.7"/>
<line x1="165.0" y1="638.25" x2="165.0" y2="635.5" stroke="#1e1e1e" stroke-width="1.0"/>
<line x1="162.5" y1="635.5" x2="167.5" y2="635.5" stroke="#1e1e1e" stroke-width="1.0"/>
<rect x="171.60" y="617.35" width="9.30" height="62.65" fill="#17508A" stroke="#0D3F74" stroke-width="0.7"/>
<line x1="176.25" y1="617" x2="176.25" y2="612.5" stroke="#1e1e1e" stroke-width="1.0"/>
<line x1="173.75" y1="612.5" x2="178.75" y2="612.5" stroke="#1e1e1e" stroke-width="1.0"/>
<rect x="195.85" y="670.35" width="9.30" height="9.65" fill="#C8102E" stroke="#A5001E" stroke-width="0.7"/>
<line x1="200.5" y1="670" x2="200.5" y2="666.25" stroke="#1e1e1e" stroke-width="1.0"/>
<line x1="198.0" y1="666.25" x2="203.0" y2="666.25" stroke="#1e1e1e" stroke-width="1.0"/>
<rect x="207.35" y="629.10" width="9.30" height="50.90" fill="#17508A" stroke="#0D3F74" stroke-width="0.7"/>
<line x1="212.0" y1="628.75" x2="212.0" y2="626.25" stroke="#1e1e1e" stroke-width="1.0"/>
<line x1="209.5" y1="626.25" x2="214.5" y2="626.25" stroke="#1e1e1e" stroke-width="1.0"/>
<line x1="93.75" y1="638" x2="105" y2="638" stroke="#8a8a8a" stroke-width="1.1"/>
<text x="99.375" y="638.1" font-size="9.5" text-anchor="middle" fill="#111" textLength="10.5" lengthAdjust="spacingAndGlyphs" >***</text>
<line x1="128.5" y1="627.5" x2="140" y2="627.5" stroke="#8a8a8a" stroke-width="1.1"/>
<text x="134.25" y="627.6" font-size="9.5" text-anchor="middle" fill="#111" textLength="7.0" lengthAdjust="spacingAndGlyphs" >**</text>
<line x1="165" y1="608.75" x2="176.25" y2="608.75" stroke="#8a8a8a" stroke-width="1.1"/>
<text x="170.625" y="608.85" font-size="9.5" text-anchor="middle" fill="#111" textLength="10.5" lengthAdjust="spacingAndGlyphs" >***</text>
<line x1="200.5" y1="623" x2="212" y2="623" stroke="#8a8a8a" stroke-width="1.1"/>
<text x="206.25" y="623.1" font-size="9.5" text-anchor="middle" fill="#111" textLength="10.5" lengthAdjust="spacingAndGlyphs" >***</text>
<rect x="53.9" y="597.3" width="5.2" height="5.2" fill="#C8102E"/>
<rect x="53.9" y="606.2" width="5.2" height="5.2" fill="#17508A"/>
<text x="62.5" y="602.6" font-size="8.5" textLength="11.5" lengthAdjust="spacingAndGlyphs" >WT</text>
<text x="62.5" y="611.5000000000001" font-size="8.5" textLength="34" lengthAdjust="spacingAndGlyphs">PTPN22<tspan font-size="5.27" dy="-2.55">−/−</tspan></text>
<text x="63.75" y="692.5" font-size="8.5" text-anchor="middle" >0</text>
<text x="98.75" y="692.5" font-size="8.5" text-anchor="middle" >30</text>
<text x="133.75" y="692.5" font-size="8.5" text-anchor="middle" >60</text>
<text x="170" y="692.5" font-size="8.5" text-anchor="middle" >90</text>
<text x="206.25" y="692.5" font-size="8.5" text-anchor="middle" >120</text>
<text x="116.3" y="705.6" font-size="10" textLength="36.5" lengthAdjust="spacingAndGlyphs" >Times (sec)</text>
<text x="26.5" y="683.1" font-size="10.2" textLength="93.70000000000005" lengthAdjust="spacingAndGlyphs" transform="rotate(-90 26.5 683.1)" stroke="#222" stroke-width="0.22">Fluorescence intensity (RFU)</text>
<line x1="303.75" y1="593" x2="303.75" y2="679.5" stroke="#1e1e1e" stroke-width="1.3"/>
<line x1="300.75" y1="597" x2="303.75" y2="597" stroke="#1e1e1e" stroke-width="1.0"/>
<text x="297.75" y="599.9" font-size="8.8" text-anchor="end" textLength="12.450000000000001" lengthAdjust="spacingAndGlyphs" >100</text>
<line x1="300.75" y1="613.25" x2="303.75" y2="613.25" stroke="#1e1e1e" stroke-width="1.0"/>
<text x="297.75" y="616.15" font-size="8.8" text-anchor="end" textLength="8.3" lengthAdjust="spacingAndGlyphs" >80</text>
<line x1="300.75" y1="630" x2="303.75" y2="630" stroke="#1e1e1e" stroke-width="1.0"/>
<text x="297.75" y="632.9" font-size="8.8" text-anchor="end" textLength="8.3" lengthAdjust="spacingAndGlyphs" >60</text>
<line x1="300.75" y1="646.75" x2="303.75" y2="646.75" stroke="#1e1e1e" stroke-width="1.0"/>
<text x="297.75" y="649.65" font-size="8.8" text-anchor="end" textLength="8.3" lengthAdjust="spacingAndGlyphs" >40</text>
<line x1="300.75" y1="663" x2="303.75" y2="663" stroke="#1e1e1e" stroke-width="1.0"/>
<text x="297.75" y="665.9" font-size="8.8" text-anchor="end" textLength="8.3" lengthAdjust="spacingAndGlyphs" >20</text>
<line x1="300.75" y1="679.5" x2="303.75" y2="679.5" stroke="#1e1e1e" stroke-width="1.0"/>
<text x="297.75" y="682.4" font-size="8.8" text-anchor="end" textLength="4.15" lengthAdjust="spacingAndGlyphs" >0</text>
<line x1="303.75" y1="679.5" x2="512.5" y2="679.5" stroke="#1e1e1e" stroke-width="1.3"/>
<line x1="319.5" y1="679.5" x2="319.5" y2="682.5" stroke="#1e1e1e" stroke-width="1.0"/>
<line x1="355" y1="679.5" x2="355" y2="682.5" stroke="#1e1e1e" stroke-width="1.0"/>
<line x1="390.5" y1="679.5" x2="390.5" y2="682.5" stroke="#1e1e1e" stroke-width="1.0"/>
<line x1="425" y1="679.5" x2="425" y2="682.5" stroke="#1e1e1e" stroke-width="1.0"/>
<line x1="460.5" y1="679.5" x2="460.5" y2="682.5" stroke="#1e1e1e" stroke-width="1.0"/>
<line x1="495.5" y1="679.5" x2="495.5" y2="682.5" stroke="#1e1e1e" stroke-width="1.0"/>
<rect x="309.85" y="665.85" width="9.05" height="13.65" fill="#C8102E" stroke="#A5001E" stroke-width="0.7"/>
<line x1="314.375" y1="665.5" x2="314.375" y2="664.25" stroke="#1e1e1e" stroke-width="1.0"/>
<line x1="311.875" y1="664.25" x2="316.875" y2="664.25" stroke="#1e1e1e" stroke-width="1.0"/>
<rect x="320.35" y="657.35" width="8.80" height="22.15" fill="#17508A" stroke="#0D3F74" stroke-width="0.7"/>
<line x1="324.75" y1="657" x2="324.75" y2="654.5" stroke="#1e1e1e" stroke-width="1.0"/>
<line x1="322.25" y1="654.5" x2="327.25" y2="654.5" stroke="#1e1e1e" stroke-width="1.0"/>
<rect x="344.85" y="637.35" width="8.80" height="42.15" fill="#C8102E" stroke="#A5001E" stroke-width="0.7"/>
<line x1="349.25" y1="637" x2="349.25" y2="633.75" stroke="#1e1e1e" stroke-width="1.0"/>
<line x1="346.75" y1="633.75" x2="351.75" y2="633.75" stroke="#1e1e1e" stroke-width="1.0"/>
<rect x="355.35" y="626.60" width="8.80" height="52.90" fill="#17508A" stroke="#0D3F74" stroke-width="0.7"/>
<line x1="359.75" y1="626.25" x2="359.75" y2="621.75" stroke="#1e1e1e" stroke-width="1.0"/>
<line x1="357.25" y1="621.75" x2="362.25" y2="621.75" stroke="#1e1e1e" stroke-width="1.0"/>
<rect x="380.35" y="641.60" width="9.30" height="37.90" fill="#C8102E" stroke="#A5001E" stroke-width="0.7"/>
<line x1="385.0" y1="641.25" x2="385.0" y2="638.75" stroke="#1e1e1e" stroke-width="1.0"/>
<line x1="382.5" y1="638.75" x2="387.5" y2="638.75" stroke="#1e1e1e" stroke-width="1.0"/>
<rect x="391.35" y="629.10" width="8.80" height="50.40" fill="#17508A" stroke="#0D3F74" stroke-width="0.7"/>
<line x1="395.75" y1="628.75" x2="395.75" y2="625" stroke="#1e1e1e" stroke-width="1.0"/>
<line x1="393.25" y1="625" x2="398.25" y2="625" stroke="#1e1e1e" stroke-width="1.0"/>
<rect x="415.35" y="665.85" width="8.80" height="13.65" fill="#C8102E" stroke="#A5001E" stroke-width="0.7"/>
<line x1="419.75" y1="665.5" x2="419.75" y2="663.75" stroke="#1e1e1e" stroke-width="1.0"/>
<line x1="417.25" y1="663.75" x2="422.25" y2="663.75" stroke="#1e1e1e" stroke-width="1.0"/>
<rect x="425.85" y="642.85" width="8.80" height="36.65" fill="#17508A" stroke="#0D3F74" stroke-width="0.7"/>
<line x1="430.25" y1="642.5" x2="430.25" y2="640.5" stroke="#1e1e1e" stroke-width="1.0"/>
<line x1="427.75" y1="640.5" x2="432.75" y2="640.5" stroke="#1e1e1e" stroke-width="1.0"/>
<rect x="450.85" y="667.85" width="8.80" height="11.65" fill="#C8102E" stroke="#A5001E" stroke-width="0.7"/>
<line x1="455.25" y1="667.5" x2="455.25" y2="665.5" stroke="#1e1e1e" stroke-width="1.0"/>
<line x1="452.75" y1="665.5" x2="457.75" y2="665.5" stroke="#1e1e1e" stroke-width="1.0"/>
<rect x="461.10" y="659.10" width="9.05" height="20.40" fill="#17508A" stroke="#0D3F74" stroke-width="0.7"/>
<line x1="465.625" y1="658.75" x2="465.625" y2="655.5" stroke="#1e1e1e" stroke-width="1.0"/>
<line x1="463.125" y1="655.5" x2="468.125" y2="655.5" stroke="#1e1e1e" stroke-width="1.0"/>
<rect x="485.85" y="639.85" width="8.80" height="39.65" fill="#C8102E" stroke="#A5001E" stroke-width="0.7"/>
<line x1="490.25" y1="639.5" x2="490.25" y2="634.25" stroke="#1e1e1e" stroke-width="1.0"/>
<line x1="487.75" y1="634.25" x2="492.75" y2="634.25" stroke="#1e1e1e" stroke-width="1.0"/>
<rect x="496.60" y="618.35" width="8.80" height="61.15" fill="#17508A" stroke="#0D3F74" stroke-width="0.7"/>
<line x1="501.0" y1="618" x2="501.0" y2="614.5" stroke="#1e1e1e" stroke-width="1.0"/>
<line x1="498.5" y1="614.5" x2="503.5" y2="614.5" stroke="#1e1e1e" stroke-width="1.0"/>
<line x1="314.5" y1="651.25" x2="324.5" y2="651.25" stroke="#8a8a8a" stroke-width="1.1"/>
<text x="319.5" y="651.35" font-size="9.5" text-anchor="middle" fill="#111" textLength="3.5" lengthAdjust="spacingAndGlyphs" >*</text>
<line x1="349.5" y1="618.75" x2="360" y2="618.75" stroke="#8a8a8a" stroke-width="1.1"/>
<text x="354.75" y="618.85" font-size="9.5" text-anchor="middle" fill="#111" textLength="7.0" lengthAdjust="spacingAndGlyphs" >**</text>
<line x1="385.5" y1="621.25" x2="396" y2="621.25" stroke="#8a8a8a" stroke-width="1.1"/>
<text x="390.75" y="621.35" font-size="9.5" text-anchor="middle" fill="#111" textLength="7.0" lengthAdjust="spacingAndGlyphs" >**</text>
<line x1="420" y1="637" x2="430.5" y2="637" stroke="#8a8a8a" stroke-width="1.1"/>
<text x="425.25" y="637.1" font-size="9.5" text-anchor="middle" fill="#111" textLength="10.5" lengthAdjust="spacingAndGlyphs" >***</text>
<line x1="455.5" y1="652" x2="465.5" y2="652" stroke="#8a8a8a" stroke-width="1.1"/>
<text x="460.5" y="652.1" font-size="9.5" text-anchor="middle" fill="#111" textLength="3.5" lengthAdjust="spacingAndGlyphs" >*</text>
<line x1="490.5" y1="612" x2="500.75" y2="612" stroke="#8a8a8a" stroke-width="1.1"/>
<text x="495.625" y="612.1" font-size="9.5" text-anchor="middle" fill="#111" textLength="10.5" lengthAdjust="spacingAndGlyphs" >***</text>
<text x="319.5" y="693" font-size="8.5" text-anchor="middle" textLength="19" lengthAdjust="spacingAndGlyphs" >XCL1</text>
<text x="355" y="693" font-size="8.5" text-anchor="middle" textLength="25" lengthAdjust="spacingAndGlyphs" >M-CSF</text>
<text x="389.5" y="693" font-size="8.5" text-anchor="middle" textLength="34" lengthAdjust="spacingAndGlyphs" >P-selectin</text>
<text x="425" y="693" font-size="8.5" text-anchor="middle" textLength="26" lengthAdjust="spacingAndGlyphs" >SDF-1α</text>
<text x="460.5" y="693" font-size="8.5" text-anchor="middle" textLength="24" lengthAdjust="spacingAndGlyphs" >CCL17</text>
<text x="495.5" y="693" font-size="8.5" text-anchor="middle" textLength="19" lengthAdjust="spacingAndGlyphs" >CCL1</text>
<rect x="374.3" y="699.7" width="5.2" height="5.2" fill="#C8102E"/>
<text x="382" y="704.7" font-size="8.5" textLength="12" lengthAdjust="spacingAndGlyphs" >WT</text>
<rect x="400.1" y="699.7" width="5.3" height="5.2" fill="#17508A"/>
<text x="408.3" y="704.7" font-size="8.5" textLength="34.5" lengthAdjust="spacingAndGlyphs">PTPN22<tspan font-size="5.27" dy="-2.55">−/−</tspan></text>
<text x="279.1" y="671.7" font-size="10.2" textLength="71.10000000000002" lengthAdjust="spacingAndGlyphs" transform="rotate(-90 279.1 671.7)" stroke="#222" stroke-width="0.22">Mean signal intensity</text>
<defs><filter id="bl" x="-20%" y="-20%" width="140%" height="140%"><feGaussianBlur stdDeviation="0.45"/></filter><linearGradient id="mg" x1="0" x2="1" y1="0" y2="0"><stop offset="0" stop-color="#e9e9e9"/><stop offset="0.06" stop-color="#f1f1f1"/><stop offset="0.7" stop-color="#eeeeee"/><stop offset="1" stop-color="#e8e8e8"/></linearGradient></defs>
<rect x="295.6" y="501.7" width="85.39999999999998" height="67.30000000000001" fill="url(#mg)"/>
<g filter="url(#bl)">
<circle cx="299.50" cy="506.40" r="1.85" fill="#151515"/>
<circle cx="305.50" cy="506.40" r="1.85" fill="#151515"/>
<circle cx="328.40" cy="506.40" r="1.55" fill="#d9d9d9"/>
<circle cx="334.30" cy="506.40" r="1.55" fill="#c2c2c2"/>
<circle cx="340.50" cy="506.40" r="1.55" fill="#c2c2c2"/>
<circle cx="346.70" cy="506.40" r="1.55" fill="#d9d9d9"/>
<circle cx="358.50" cy="506.40" r="1.55" fill="#c2c2c2"/>
<circle cx="364.40" cy="506.40" r="1.85" fill="#151515"/>
<circle cx="370.90" cy="506.40" r="1.55" fill="#a6a6a6"/>
<circle cx="377.10" cy="506.40" r="1.55" fill="#d9d9d9"/>
<circle cx="299.50" cy="512.78" r="1.85" fill="#151515"/>
<circle cx="305.50" cy="512.78" r="1.85" fill="#151515"/>
<circle cx="328.40" cy="512.78" r="1.55" fill="#d9d9d9"/>
<circle cx="334.30" cy="512.78" r="1.55" fill="#c2c2c2"/>
<circle cx="340.50" cy="512.78" r="1.55" fill="#c2c2c2"/>
<circle cx="346.70" cy="512.78" r="1.55" fill="#d9d9d9"/>
<circle cx="358.50" cy="512.78" r="1.55" fill="#c2c2c2"/>
<circle cx="364.40" cy="512.78" r="1.85" fill="#151515"/>
<circle cx="370.90" cy="512.78" r="1.55" fill="#a6a6a6"/>
<circle cx="377.10" cy="512.78" r="1.55" fill="#d9d9d9"/>
<circle cx="299.50" cy="519.16" r="1.55" fill="#a6a6a6"/>
<circle cx="305.50" cy="519.16" r="1.55" fill="#d9d9d9"/>
<circle cx="310.90" cy="519.16" r="1.55" fill="#c2c2c2"/>
<circle cx="316.60" cy="519.16" r="1.55" fill="#d9d9d9"/>
<circle cx="322.70" cy="519.16" r="1.55" fill="#c2c2c2"/>
<circle cx="334.30" cy="519.16" r="1.85" fill="#151515"/>
<circle cx="340.50" cy="519.16" r="1.55" fill="#d9d9d9"/>
<circle cx="346.70" cy="519.16" r="1.55" fill="#c2c2c2"/>
<circle cx="352.60" cy="519.16" r="1.85" fill="#151515"/>
<circle cx="358.50" cy="519.16" r="1.55" fill="#d9d9d9"/>
<circle cx="364.40" cy="519.16" r="1.55" fill="#c2c2c2"/>
<circle cx="377.10" cy="519.16" r="1.55" fill="#c2c2c2"/>
<circle cx="299.50" cy="525.54" r="1.55" fill="#c2c2c2"/>
<circle cx="305.50" cy="525.54" r="1.55" fill="#d9d9d9"/>
<circle cx="310.90" cy="525.54" r="1.55" fill="#c2c2c2"/>
<circle cx="316.60" cy="525.54" r="1.55" fill="#d9d9d9"/>
<circle cx="322.70" cy="525.54" r="1.55" fill="#c2c2c2"/>
<circle cx="334.30" cy="525.54" r="1.85" fill="#151515"/>
<circle cx="340.50" cy="525.54" r="1.55" fill="#d9d9d9"/>
<circle cx="346.70" cy="525.54" r="1.55" fill="#c2c2c2"/>
<circle cx="352.60" cy="525.54" r="1.85" fill="#151515"/>
<circle cx="358.50" cy="525.54" r="1.55" fill="#d9d9d9"/>
<circle cx="364.40" cy="525.54" r="1.55" fill="#c2c2c2"/>
<circle cx="377.10" cy="525.54" r="1.55" fill="#c2c2c2"/>
<circle cx="316.60" cy="531.92" r="1.55" fill="#c2c2c2"/>
<circle cx="322.70" cy="531.92" r="1.55" fill="#d9d9d9"/>
<circle cx="328.40" cy="531.92" r="1.55" fill="#d9d9d9"/>
<circle cx="334.30" cy="531.92" r="1.55" fill="#a6a6a6"/>
<circle cx="340.50" cy="531.92" r="1.55" fill="#c2c2c2"/>
<circle cx="346.70" cy="531.92" r="1.55" fill="#d9d9d9"/>
<circle cx="352.60" cy="531.92" r="1.55" fill="#a6a6a6"/>
<circle cx="358.50" cy="531.92" r="1.55" fill="#c2c2c2"/>
<ellipse cx="370.90" cy="531.92" rx="2.2" ry="2.6" fill="#0a0a0a"/>
<circle cx="377.10" cy="531.92" r="1.55" fill="#a6a6a6"/>
<circle cx="316.60" cy="538.30" r="1.55" fill="#c2c2c2"/>
<circle cx="328.40" cy="538.30" r="1.55" fill="#d9d9d9"/>
<circle cx="334.30" cy="538.30" r="1.55" fill="#a6a6a6"/>
<circle cx="340.50" cy="538.30" r="1.55" fill="#c2c2c2"/>
<circle cx="352.60" cy="538.30" r="1.55" fill="#a6a6a6"/>
<circle cx="358.50" cy="538.30" r="1.55" fill="#c2c2c2"/>
<ellipse cx="370.90" cy="538.30" rx="2.2" ry="2.6" fill="#0a0a0a"/>
<circle cx="377.10" cy="538.30" r="1.55" fill="#a6a6a6"/>
<circle cx="299.50" cy="544.68" r="1.55" fill="#d9d9d9"/>
<circle cx="305.50" cy="544.68" r="1.55" fill="#d9d9d9"/>
<circle cx="310.90" cy="544.68" r="1.55" fill="#c2c2c2"/>
<circle cx="316.60" cy="544.68" r="1.55" fill="#5a5a5a"/>
<circle cx="328.40" cy="544.68" r="1.55" fill="#c2c2c2"/>
<circle cx="334.30" cy="544.68" r="1.55" fill="#c2c2c2"/>
<ellipse cx="340.50" cy="544.68" rx="2.2" ry="2.6" fill="#0a0a0a"/>
<circle cx="346.70" cy="544.68" r="1.55" fill="#c2c2c2"/>
<circle cx="352.60" cy="544.68" r="1.55" fill="#d9d9d9"/>
<ellipse cx="358.50" cy="544.68" rx="2.2" ry="2.6" fill="#0a0a0a"/>
<circle cx="364.40" cy="544.68" r="1.55" fill="#5a5a5a"/>
<circle cx="370.90" cy="544.68" r="1.55" fill="#d9d9d9"/>
<circle cx="299.50" cy="551.06" r="1.55" fill="#d9d9d9"/>
<circle cx="305.50" cy="551.06" r="1.55" fill="#d9d9d9"/>
<circle cx="310.90" cy="551.06" r="1.55" fill="#c2c2c2"/>
<circle cx="316.60" cy="551.06" r="1.55" fill="#5a5a5a"/>
<circle cx="328.40" cy="551.06" r="1.55" fill="#c2c2c2"/>
<circle cx="334.30" cy="551.06" r="1.55" fill="#d9d9d9"/>
<ellipse cx="340.50" cy="551.06" rx="2.2" ry="2.6" fill="#0a0a0a"/>
<circle cx="346.70" cy="551.06" r="1.55" fill="#c2c2c2"/>
<circle cx="352.60" cy="551.06" r="1.55" fill="#d9d9d9"/>
<ellipse cx="358.50" cy="551.06" rx="2.2" ry="2.6" fill="#0a0a0a"/>
<circle cx="364.40" cy="551.06" r="1.55" fill="#5a5a5a"/>
<circle cx="370.90" cy="551.06" r="1.55" fill="#d9d9d9"/>
<circle cx="299.50" cy="557.44" r="1.55" fill="#c2c2c2"/>
<circle cx="305.50" cy="557.44" r="1.55" fill="#c2c2c2"/>
<circle cx="310.90" cy="557.44" r="1.55" fill="#5a5a5a"/>
<circle cx="316.60" cy="557.44" r="1.55" fill="#d9d9d9"/>
<circle cx="322.70" cy="557.44" r="1.55" fill="#d9d9d9"/>
<circle cx="328.40" cy="557.44" r="1.55" fill="#c2c2c2"/>
<circle cx="334.30" cy="557.44" r="1.55" fill="#c2c2c2"/>
<circle cx="340.50" cy="557.44" r="1.55" fill="#c2c2c2"/>
<circle cx="346.70" cy="557.44" r="1.55" fill="#a6a6a6"/>
<circle cx="352.60" cy="557.44" r="1.55" fill="#a6a6a6"/>
<circle cx="377.10" cy="557.44" r="1.85" fill="#151515"/>
<circle cx="299.50" cy="563.82" r="1.55" fill="#c2c2c2"/>
<circle cx="305.50" cy="563.82" r="1.55" fill="#c2c2c2"/>
<circle cx="310.90" cy="563.82" r="1.55" fill="#5a5a5a"/>
<circle cx="316.60" cy="563.82" r="1.55" fill="#d9d9d9"/>
<circle cx="328.40" cy="563.82" r="1.55" fill="#c2c2c2"/>
<circle cx="334.30" cy="563.82" r="1.55" fill="#c2c2c2"/>
<circle cx="340.50" cy="563.82" r="1.55" fill="#c2c2c2"/>
<circle cx="346.70" cy="563.82" r="1.55" fill="#a6a6a6"/>
<circle cx="352.60" cy="563.82" r="1.55" fill="#a6a6a6"/>
<circle cx="377.10" cy="563.82" r="1.85" fill="#151515"/>
</g>
<rect x="384.0" y="501.7" width="85.0" height="67.30000000000001" fill="url(#mg)"/>
<g filter="url(#bl)">
<circle cx="387.60" cy="506.40" r="1.85" fill="#151515"/>
<circle cx="393.60" cy="506.40" r="1.85" fill="#151515"/>
<circle cx="416.90" cy="506.40" r="1.55" fill="#d9d9d9"/>
<circle cx="422.50" cy="506.40" r="1.55" fill="#c2c2c2"/>
<circle cx="428.10" cy="506.40" r="1.55" fill="#c2c2c2"/>
<circle cx="434.30" cy="506.40" r="1.55" fill="#d9d9d9"/>
<circle cx="446.40" cy="506.40" r="1.55" fill="#c2c2c2"/>
<circle cx="452.30" cy="506.40" r="1.85" fill="#151515"/>
<circle cx="457.90" cy="506.40" r="1.55" fill="#c2c2c2"/>
<circle cx="463.80" cy="506.40" r="1.55" fill="#d9d9d9"/>
<circle cx="387.60" cy="512.78" r="1.85" fill="#151515"/>
<circle cx="393.60" cy="512.78" r="1.85" fill="#151515"/>
<circle cx="416.90" cy="512.78" r="1.55" fill="#d9d9d9"/>
<circle cx="422.50" cy="512.78" r="1.55" fill="#c2c2c2"/>
<circle cx="428.10" cy="512.78" r="1.55" fill="#c2c2c2"/>
<circle cx="434.30" cy="512.78" r="1.55" fill="#d9d9d9"/>
<circle cx="446.40" cy="512.78" r="1.55" fill="#c2c2c2"/>
<circle cx="452.30" cy="512.78" r="1.85" fill="#151515"/>
<circle cx="457.90" cy="512.78" r="1.55" fill="#c2c2c2"/>
<circle cx="387.60" cy="519.16" r="1.55" fill="#a6a6a6"/>
<circle cx="393.60" cy="519.16" r="1.55" fill="#d9d9d9"/>
<circle cx="399.70" cy="519.16" r="1.55" fill="#c2c2c2"/>
<circle cx="405.60" cy="519.16" r="1.55" fill="#d9d9d9"/>
<circle cx="411.30" cy="519.16" r="1.55" fill="#a6a6a6"/>
<circle cx="422.50" cy="519.16" r="1.85" fill="#151515"/>
<circle cx="428.10" cy="519.16" r="1.55" fill="#d9d9d9"/>
<circle cx="434.30" cy="519.16" r="1.55" fill="#c2c2c2"/>
<circle cx="440.20" cy="519.16" r="1.85" fill="#151515"/>
<circle cx="446.40" cy="519.16" r="1.55" fill="#d9d9d9"/>
<circle cx="452.30" cy="519.16" r="1.55" fill="#d9d9d9"/>
<circle cx="463.80" cy="519.16" r="1.55" fill="#d9d9d9"/>
<circle cx="387.60" cy="525.54" r="1.55" fill="#a6a6a6"/>
<circle cx="393.60" cy="525.54" r="1.55" fill="#d9d9d9"/>
<circle cx="399.70" cy="525.54" r="1.55" fill="#a6a6a6"/>
<circle cx="405.60" cy="525.54" r="1.55" fill="#d9d9d9"/>
<circle cx="411.30" cy="525.54" r="1.55" fill="#c2c2c2"/>
<circle cx="422.50" cy="525.54" r="1.85" fill="#151515"/>
<circle cx="428.10" cy="525.54" r="1.55" fill="#d9d9d9"/>
<circle cx="434.30" cy="525.54" r="1.55" fill="#c2c2c2"/>
<circle cx="440.20" cy="525.54" r="1.85" fill="#151515"/>
<circle cx="446.40" cy="525.54" r="1.55" fill="#d9d9d9"/>
<circle cx="452.30" cy="525.54" r="1.55" fill="#d9d9d9"/>
<circle cx="463.80" cy="525.54" r="1.55" fill="#d9d9d9"/>
<circle cx="393.60" cy="531.92" r="1.55" fill="#d9d9d9"/>
<circle cx="405.60" cy="531.92" r="1.55" fill="#a6a6a6"/>
<circle cx="411.30" cy="531.92" r="1.55" fill="#d9d9d9"/>
<circle cx="422.50" cy="531.92" r="1.55" fill="#a6a6a6"/>
<circle cx="428.10" cy="531.92" r="1.55" fill="#c2c2c2"/>
<circle cx="434.30" cy="531.92" r="1.55" fill="#d9d9d9"/>
<circle cx="440.20" cy="531.92" r="1.55" fill="#a6a6a6"/>
<circle cx="446.40" cy="531.92" r="1.55" fill="#c2c2c2"/>
<ellipse cx="457.90" cy="531.92" rx="2.2" ry="2.6" fill="#0a0a0a"/>
<circle cx="463.80" cy="531.92" r="1.55" fill="#a6a6a6"/>
<circle cx="405.60" cy="538.30" r="1.55" fill="#c2c2c2"/>
<circle cx="422.50" cy="538.30" r="1.55" fill="#c2c2c2"/>
<circle cx="428.10" cy="538.30" r="1.55" fill="#c2c2c2"/>
<circle cx="440.20" cy="538.30" r="1.55" fill="#a6a6a6"/>
<circle cx="446.40" cy="538.30" r="1.55" fill="#d9d9d9"/>
<ellipse cx="457.90" cy="538.30" rx="2.2" ry="2.6" fill="#0a0a0a"/>
<circle cx="463.80" cy="538.30" r="1.55" fill="#a6a6a6"/>
<circle cx="387.60" cy="544.68" r="1.55" fill="#a6a6a6"/>
<circle cx="393.60" cy="544.68" r="1.55" fill="#c2c2c2"/>
<circle cx="399.70" cy="544.68" r="1.55" fill="#c2c2c2"/>
<circle cx="405.60" cy="544.68" r="1.85" fill="#151515"/>
<circle cx="416.90" cy="544.68" r="1.55" fill="#c2c2c2"/>
<circle cx="422.50" cy="544.68" r="1.55" fill="#c2c2c2"/>
<ellipse cx="428.10" cy="544.68" rx="2.2" ry="2.6" fill="#0a0a0a"/>
<circle cx="434.30" cy="544.68" r="1.55" fill="#c2c2c2"/>
<circle cx="440.20" cy="544.68" r="1.55" fill="#d9d9d9"/>
<ellipse cx="446.40" cy="544.68" rx="2.2" ry="2.6" fill="#0a0a0a"/>
<circle cx="452.30" cy="544.68" r="1.55" fill="#5a5a5a"/>
<circle cx="387.60" cy="551.06" r="1.55" fill="#a6a6a6"/>
<circle cx="393.60" cy="551.06" r="1.55" fill="#c2c2c2"/>
<circle cx="399.70" cy="551.06" r="1.55" fill="#c2c2c2"/>
<circle cx="405.60" cy="551.06" r="1.85" fill="#151515"/>
<circle cx="416.90" cy="551.06" r="1.55" fill="#c2c2c2"/>
<circle cx="422.50" cy="551.06" r="1.55" fill="#d9d9d9"/>
<ellipse cx="428.10" cy="551.06" rx="2.2" ry="2.6" fill="#0a0a0a"/>
<circle cx="434.30" cy="551.06" r="1.55" fill="#c2c2c2"/>
<circle cx="440.20" cy="551.06" r="1.55" fill="#d9d9d9"/>
<ellipse cx="446.40" cy="551.06" rx="2.2" ry="2.6" fill="#0a0a0a"/>
<circle cx="452.30" cy="551.06" r="1.55" fill="#5a5a5a"/>
<circle cx="387.60" cy="557.44" r="1.55" fill="#5a5a5a"/>
<circle cx="393.60" cy="557.44" r="1.55" fill="#a6a6a6"/>
<circle cx="399.70" cy="557.44" r="1.85" fill="#151515"/>
<circle cx="405.60" cy="557.44" r="1.55" fill="#d9d9d9"/>
<circle cx="411.30" cy="557.44" r="1.55" fill="#d9d9d9"/>
<circle cx="416.90" cy="557.44" r="1.55" fill="#d9d9d9"/>
<circle cx="422.50" cy="557.44" r="1.55" fill="#d9d9d9"/>
<circle cx="428.10" cy="557.44" r="1.55" fill="#c2c2c2"/>
<circle cx="434.30" cy="557.44" r="1.55" fill="#a6a6a6"/>
<circle cx="440.20" cy="557.44" r="1.55" fill="#a6a6a6"/>
<circle cx="463.80" cy="557.44" r="1.85" fill="#151515"/>
<circle cx="387.60" cy="563.82" r="1.55" fill="#5a5a5a"/>
<circle cx="393.60" cy="563.82" r="1.55" fill="#a6a6a6"/>
<circle cx="399.70" cy="563.82" r="1.85" fill="#151515"/>
<circle cx="405.60" cy="563.82" r="1.55" fill="#d9d9d9"/>
<circle cx="416.90" cy="563.82" r="1.55" fill="#d9d9d9"/>
<circle cx="422.50" cy="563.82" r="1.55" fill="#d9d9d9"/>
<circle cx="428.10" cy="563.82" r="1.55" fill="#c2c2c2"/>
<circle cx="434.30" cy="563.82" r="1.55" fill="#a6a6a6"/>
<circle cx="440.20" cy="563.82" r="1.55" fill="#a6a6a6"/>
<circle cx="463.80" cy="563.82" r="1.85" fill="#151515"/>
</g>
<rect x="295.7" y="541.3" width="5.900000000000034" height="12.700000000000045" fill="none" stroke="#5bc2ec" stroke-width="0.8" rx="0.6"/>
<rect x="313.3" y="541.3" width="5.899999999999977" height="12.700000000000045" fill="none" stroke="#2a2a2a" stroke-width="0.8" rx="0.6"/>
<rect x="361.2" y="541.6" width="6.100000000000023" height="12.799999999999955" fill="none" stroke="#e6a466" stroke-width="0.8" rx="0.6"/>
<rect x="295.5" y="555.2" width="5.5" height="12.599999999999909" fill="none" stroke="#de6c76" stroke-width="0.8" rx="0.6"/>
<rect x="301.6" y="555.2" width="5.5" height="12.599999999999909" fill="none" stroke="#6a6ea8" stroke-width="0.8" rx="0.6"/>
<rect x="307.6" y="555.2" width="6.0" height="12.599999999999909" fill="none" stroke="#e2569f" stroke-width="0.8" rx="0.6"/>
<rect x="384.3" y="541.3" width="6.399999999999977" height="12.400000000000091" fill="none" stroke="#5bc2ec" stroke-width="0.8" rx="0.6"/>
<rect x="402.5" y="541.3" width="6.0" height="12.400000000000091" fill="none" stroke="#2a2a2a" stroke-width="0.8" rx="0.6"/>
<rect x="449.2" y="540.0" width="6.400000000000034" height="12.399999999999977" fill="none" stroke="#e6a466" stroke-width="0.8" rx="0.6"/>
<rect x="384.5" y="554.4" width="5.899999999999977" height="12.600000000000023" fill="none" stroke="#de6c76" stroke-width="0.8" rx="0.6"/>
<rect x="391.0" y="554.4" width="5.699999999999989" height="12.600000000000023" fill="none" stroke="#6a6ea8" stroke-width="0.8" rx="0.6"/>
<rect x="397.2" y="554.4" width="5.900000000000034" height="12.600000000000023" fill="none" stroke="#e2569f" stroke-width="0.8" rx="0.6"/>
<rect x="472.7" y="502.5" width="5.4" height="5.4" fill="none" stroke="#5bc2ec" stroke-width="1"/>
<text x="481" y="508.0" font-size="8.4" textLength="17.5" lengthAdjust="spacingAndGlyphs" >XCL1</text>
<rect x="472.7" y="512.5" width="5.4" height="5.4" fill="none" stroke="#de6c76" stroke-width="1"/>
<text x="481" y="518.0" font-size="8.4" textLength="25" lengthAdjust="spacingAndGlyphs" >SDF-1α</text>
<rect x="472.7" y="522.5" width="5.4" height="5.4" fill="none" stroke="#2a2a2a" stroke-width="1"/>
<text x="481" y="528.0" font-size="8.4" textLength="24" lengthAdjust="spacingAndGlyphs" >M-CSF</text>
<rect x="472.7" y="532.5" width="5.4" height="5.4" fill="none" stroke="#6a6ea8" stroke-width="1"/>
<text x="481" y="538.0" font-size="8.4" textLength="24" lengthAdjust="spacingAndGlyphs" >CCL-17</text>
<rect x="472.7" y="542.5" width="5.4" height="5.4" fill="none" stroke="#e6a466" stroke-width="1"/>
<text x="481" y="548.0" font-size="8.4" textLength="31.7" lengthAdjust="spacingAndGlyphs" >P-selectin</text>
<rect x="472.7" y="552.5" width="5.4" height="5.4" fill="none" stroke="#e2569f" stroke-width="1"/>
<text x="481" y="558.0" font-size="8.4" textLength="20" lengthAdjust="spacingAndGlyphs" >CCL-1</text>
<text x="334.5" y="498.75" font-size="8.5" textLength="11.75" lengthAdjust="spacingAndGlyphs" >WT</text>
<text x="413.75" y="498.75" font-size="8.5" textLength="36.25" lengthAdjust="spacingAndGlyphs">PTPN22<tspan font-size="5.27" dy="-2.55">−/−</tspan></text>
</svg></body></html>
